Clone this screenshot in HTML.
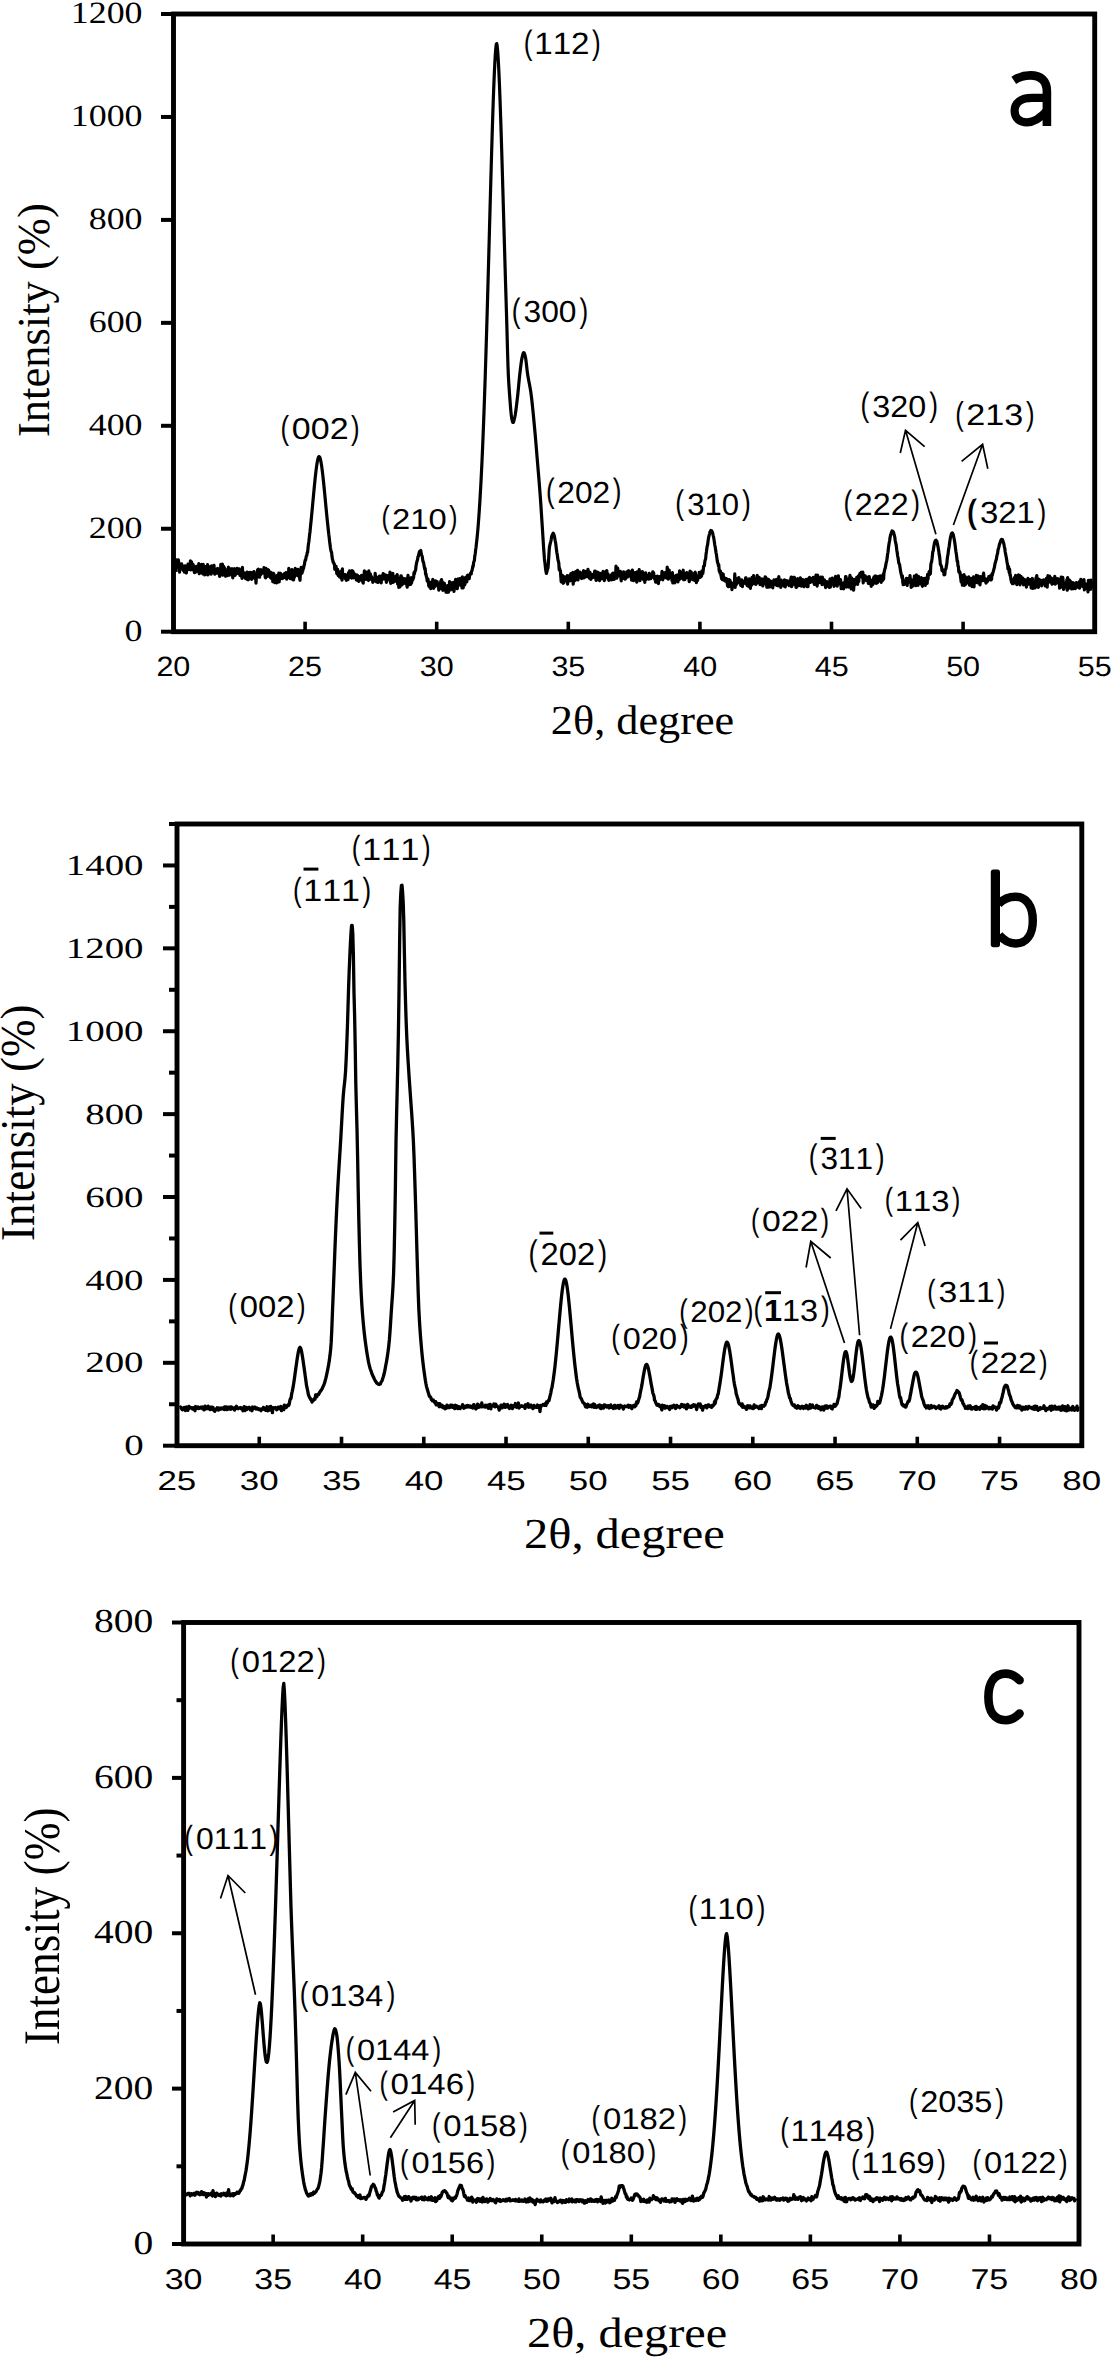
<!DOCTYPE html>
<html><head><meta charset="utf-8"><title>XRD patterns</title>
<style>
html,body{margin:0;padding:0;background:#fff;}
body{width:1112px;height:2357px;overflow:hidden;}
svg{display:block;}
text{font-kerning:none;text-rendering:geometricPrecision;fill:#000;}
</style></head><body>
<svg width="1112" height="2357" viewBox="0 0 1112 2357">
<rect width="1112" height="2357" fill="#fff"/>
<path d="M176 571.91 176.4 559.83 176.8 567.04 177.2 564.08 177.6 564.42 178 565.2 178.4 559.94 178.8 564.13 179.2 563.48 179.6 572.18 180 567.01 180.4 565.43 180.8 565.83 181.2 564.88 181.6 563.8 182 565.93 182.4 568.65 182.8 566.62 183.2 570.27 183.6 566.45 184 567.61 184.4 572.19 184.8 569.16 185.2 565.94 185.6 566.89 186 568.97 186.4 573.03 186.8 566.3 187.2 566.23 187.6 569.9 188 564.19 188.4 565.92 188.8 569.35 189.2 568.42 189.6 566.09 190 568.71 190.4 560.82 190.8 569.97 191.2 561.6 191.6 562.2 192 568.18 192.4 569.59 192.8 566.38 193.2 564.68 193.6 568.16 194 568.12 194.4 572.7 194.8 570.84 195.2 569.3 195.6 572.18 196 568.39 196.4 566.32 196.8 570.97 197.2 571.08 197.6 568.62 198 567.14 198.4 570.34 198.8 563.71 199.2 573.62 199.6 571.45 200 565.12 200.4 570.32 200.8 567.31 201.2 572.57 201.6 564.35 202 567.66 202.4 572.57 202.8 573.88 203.2 564.39 203.6 568.9 204 571.26 204.4 568.35 204.8 574.94 205.2 566.61 205.6 571.14 206 566.85 206.4 574.22 206.8 569.85 207.2 568.79 207.6 564.68 208 574.89 208.4 572.15 208.8 572.21 209.2 573.38 209.6 571.03 210 566.81 210.4 567.61 210.8 567.63 211.2 574.23 211.6 565.81 212 568.49 212.4 569.31 212.8 570.97 213.2 572.05 213.6 566.65 214 565.3 214.4 570.55 214.8 574.24 215.2 572.92 215.6 571.37 216 569.72 216.4 571.62 216.8 569.98 217.2 573.19 217.6 568.32 218 571.14 218.4 570.32 218.8 572.24 219.2 571.46 219.6 576.49 220 574.92 220.4 574.8 220.8 564.27 221.2 569.25 221.6 568.39 222 571.79 222.4 564.16 222.8 575.15 223.2 573.41 223.6 566.3 224 567.34 224.4 567.91 224.8 570.43 225.2 572.21 225.6 576.27 226 569.74 226.4 572.63 226.8 570.76 227.2 575.67 227.6 572.67 228 574.47 228.4 567.12 228.8 569.86 229.2 568.03 229.6 575.04 230 572.67 230.4 569.94 230.8 569.59 231.2 572.61 231.6 569.18 232 568.71 232.4 573.18 232.8 577.97 233.2 570.76 233.6 570.65 234 568.99 234.4 568.61 234.8 574.3 235.2 575.36 235.6 572.87 236 573.89 236.4 573.29 236.8 573.42 237.2 568.44 237.6 571.56 238 573.25 238.4 570.62 238.8 571.44 239.2 568.79 239.6 571.91 240 575.51 240.4 570.82 240.8 572.62 241.2 575.58 241.6 575.15 242 578.38 242.4 567.36 242.8 576 243.2 572.12 243.6 574.03 244 576.16 244.4 576.91 244.8 576.91 245.2 574.25 245.6 578.59 246 572.93 246.4 573.36 246.8 576.17 247.2 572.16 247.6 579.76 248 576.8 248.4 579.77 248.8 573.64 249.2 572.63 249.6 574.32 250 576.05 250.4 572.27 250.8 575.24 251.2 574.22 251.6 579.28 252 572.58 252.4 577.82 252.8 572.85 253.2 572.05 253.6 572.95 254 571.65 254.4 575.75 254.8 578.44 255.2 575.84 255.6 577.11 256 583.24 256.4 575.91 256.8 575.58 257.2 574.04 257.6 569.83 258 576.78 258.4 569.06 258.8 576.1 259.2 573.99 259.6 577.26 260 572.45 260.4 571.19 260.8 574.61 261.2 569.72 261.6 572.9 262 573.48 262.4 573.01 262.8 572.87 263.2 570.99 263.6 572.96 264 567.59 264.4 573.21 264.8 570.19 265.2 577.23 265.6 577.84 266 568.23 266.4 574.68 266.8 574.01 267.2 571.46 267.6 576.3 268 573.47 268.4 569.73 268.8 574.4 269.2 574.93 269.6 575.84 270 571.92 270.4 577.54 270.8 578.03 271.2 572.5 271.6 574.09 272 575.89 272.4 574.6 272.8 581.62 273.2 577.01 273.6 573.45 274 574.17 274.4 576.45 274.8 582.69 275.2 576.3 275.6 577.33 276 578.51 276.4 576.84 276.8 582.91 277.2 575.37 277.6 579.23 278 577.43 278.4 578.72 278.8 573.21 279.2 581.92 279.6 576.06 280 576.33 280.4 573.22 280.8 573.7 281.2 578.53 281.6 578.39 282 577.46 282.4 578.58 282.8 576.91 283.2 574.64 283.6 576.84 284 575.9 284.4 573.68 284.8 576.05 285.2 577.68 285.6 574.5 286 572.59 286.4 575.75 286.8 579.25 287.2 572.95 287.6 573.44 288 573.32 288.4 577.48 288.8 568.28 289.2 574.98 289.6 577.5 290 571.61 290.4 578.6 290.8 575.81 291.2 572.58 291.6 574.88 292 569.7 292.4 572.53 292.8 579.73 293.2 571.61 293.6 579.8 294 574.01 294.4 577.23 294.8 574.44 295.2 568.38 295.6 572.63 296 574.88 296.4 570.96 296.8 570.36 297.2 575.34 297.6 572.43 298 569.41 298.4 572.25 298.8 576.46 299.2 572.52 299.6 578.06 300 580.29 300.4 573.22 300.8 569.83 301.2 567.37 301.6 571.63 302 573.12 302.4 570.91 302.8 570.7 303.2 567.68 303.6 568.2 304 565.62 304.4 564.68 304.8 561.83 305.2 560.09 305.6 560.13 306 557.65 306.4 555.99 306.8 555.62 307.2 552.56 307.6 552.61 308 548.11 308.4 544.32 308.8 542 309.2 538.56 309.6 534.81 310 531.75 310.4 527.56 310.8 523.51 311.2 520.03 311.6 515.67 312 511.66 312.4 507.2 312.8 502.87 313.2 498.67 313.6 494.26 314 490.05 314.4 485.91 314.8 481.84 315.2 477.96 315.6 474.28 316 470.86 316.4 467.69 316.8 464.86 317.2 462.38 317.6 460.29 318 458.6 318.4 457.39 318.8 456.68 319.2 456.52 319.6 456.96 320 457.89 320.4 459.27 320.8 461.05 321.2 463.23 321.6 465.74 322 468.6 322.4 471.76 322.8 475.13 323.2 478.74 323.6 482.52 324 486.49 324.4 490.54 324.8 494.6 325.2 498.88 325.6 503.06 326 507.28 326.4 511.33 326.8 515.65 327.2 519.52 327.6 523.34 328 527.03 328.4 530.71 328.8 534.53 329.2 537.5 329.6 541.25 330 544.22 330.4 547.45 330.8 549.87 331.2 551.73 331.6 552.35 332 556.57 332.4 559.12 332.8 560.24 333.2 562.49 333.6 562.47 334 563.89 334.4 564.03 334.8 569.32 335.2 567.97 335.6 567.44 336 566.23 336.4 569.41 336.8 573.64 337.2 571.86 337.6 569.28 338 575.19 338.4 575.61 338.8 574.79 339.2 574.61 339.6 576.95 340 574.58 340.4 575.48 340.8 571.35 341.2 578.14 341.6 574.58 342 580.19 342.4 568.78 342.8 576.96 343.2 578.01 343.6 574.3 344 576.93 344.4 578.03 344.8 577.64 345.2 574.53 345.6 575.86 346 579.37 346.4 580.25 346.8 576.81 347.2 576.75 347.6 577.16 348 579.58 348.4 573.23 348.8 572.29 349.2 576.61 349.6 570.95 350 574.37 350.4 576.27 350.8 577.35 351.2 572.66 351.6 578.26 352 570.55 352.4 577.49 352.8 571.11 353.2 572.08 353.6 577.89 354 574.85 354.4 573.8 354.8 575.04 355.2 577.88 355.6 576.41 356 576.6 356.4 580 356.8 574.84 357.2 575.69 357.6 575.69 358 580.75 358.4 580.32 358.8 581.26 359.2 577.4 359.6 577.41 360 580.15 360.4 576.39 360.8 579.97 361.2 579.64 361.6 575.3 362 577.1 362.4 576.95 362.8 582.37 363.2 583.03 363.6 576.63 364 576.99 364.4 570.95 364.8 577.52 365.2 577.01 365.6 573.73 366 579.32 366.4 572.19 366.8 576.35 367.2 577.87 367.6 573.44 368 579.88 368.4 580.49 368.8 570.95 369.2 573.23 369.6 579.31 370 577.39 370.4 573.88 370.8 576.5 371.2 577.01 371.6 576.76 372 579.65 372.4 578.26 372.8 582.29 373.2 581.1 373.6 579 374 580.1 374.4 580.85 374.8 578.98 375.2 573.3 375.6 579.51 376 577.24 376.4 581.95 376.8 577.43 377.2 578.84 377.6 578.35 378 582.51 378.4 577.99 378.8 576.65 379.2 578.36 379.6 576.03 380 577.84 380.4 577.24 380.8 578.06 381.2 582.95 381.6 575.95 382 577.15 382.4 576.41 382.8 579.05 383.2 573.49 383.6 574.92 384 576.96 384.4 578.79 384.8 577.07 385.2 575.89 385.6 575.04 386 579.34 386.4 582.29 386.8 579.02 387.2 578.78 387.6 579.6 388 575.51 388.4 577.48 388.8 577.67 389.2 579.61 389.6 578.35 390 572.2 390.4 581.66 390.8 583.27 391.2 577.32 391.6 579.2 392 578.73 392.4 580.18 392.8 573.24 393.2 582.44 393.6 576.26 394 581.53 394.4 578.04 394.8 576.79 395.2 577.77 395.6 581.06 396 576.08 396.4 577.87 396.8 577.86 397.2 574.5 397.6 583.91 398 582.09 398.4 581.14 398.8 587.35 399.2 578.44 399.6 581.31 400 586.81 400.4 584.71 400.8 575.85 401.2 575.86 401.6 578.69 402 584.87 402.4 580.15 402.8 580.7 403.2 582.98 403.6 578.36 404 581.57 404.4 583.29 404.8 582.22 405.2 581.94 405.6 578.94 406 583.42 406.4 579.64 406.8 584.9 407.2 587.09 407.6 579 408 575.4 408.4 580.21 408.8 582.68 409.2 584.67 409.6 584.68 410 579.11 410.4 578.88 410.8 584.4 411.2 577.51 411.6 582.94 412 578.77 412.4 580.54 412.8 579.5 413.2 578.66 413.6 577.56 414 572.63 414.4 573.84 414.8 571.84 415.2 570.66 415.6 570.17 416 566.29 416.4 563.91 416.8 562.04 417.2 560.56 417.6 559.55 418 556.56 418.4 556.28 418.8 554.25 419.2 552.78 419.6 551.34 420 551.7 420.4 551.89 420.8 550.47 421.2 553.46 421.6 554.94 422 555.67 422.4 557.52 422.8 560.62 423.2 562.18 423.6 562.38 424 565.37 424.4 567.31 424.8 569.32 425.2 568.53 425.6 574.49 426 573.79 426.4 576.76 426.8 577.53 427.2 580.96 427.6 579.39 428 579.04 428.4 583.08 428.8 586.09 429.2 582.07 429.6 587.15 430 584.43 430.4 582.53 430.8 588.77 431.2 582.2 431.6 587.77 432 582.82 432.4 586.31 432.8 579.37 433.2 582.65 433.6 588.36 434 585.64 434.4 585.21 434.8 583.8 435.2 586.5 435.6 580.95 436 581.77 436.4 584.67 436.8 582.62 437.2 581.76 437.6 584.93 438 584.75 438.4 584.5 438.8 590.21 439.2 588.32 439.6 588.99 440 585.3 440.4 583.92 440.8 581.08 441.2 584.48 441.6 579.59 442 583.77 442.4 587.74 442.8 590.34 443.2 588.41 443.6 582.97 444 587.16 444.4 583.4 444.8 588.23 445.2 585.48 445.6 590.47 446 592.14 446.4 589.05 446.8 592.4 447.2 587.08 447.6 585.73 448 590.93 448.4 592.18 448.8 585.43 449.2 587.45 449.6 581.54 450 586.67 450.4 589.95 450.8 586.98 451.2 585.47 451.6 582.79 452 587.95 452.4 589.11 452.8 588.35 453.2 587.16 453.6 582.44 454 591.36 454.4 585.68 454.8 585.29 455.2 587.65 455.6 579.29 456 584.99 456.4 584.58 456.8 585.9 457.2 588.65 457.6 585.9 458 578.91 458.4 583.21 458.8 584.7 459.2 584.36 459.6 579.97 460 578.74 460.4 585.13 460.8 584.37 461.2 583.12 461.6 578.02 462 587.97 462.4 576.89 462.8 581.41 463.2 587.99 463.6 581.64 464 582.47 464.4 578.27 464.8 584.99 465.2 577.51 465.6 581.36 466 580.74 466.4 577.29 466.8 581.96 467.2 575.8 467.6 575.29 468 578.31 468.4 576.96 468.8 578.37 469.2 578.67 469.6 575.48 470 574.3 470.4 573.6 470.8 572.99 471.2 573.95 471.6 571.14 472 570.76 472.4 568.66 472.8 566.19 473.2 566.41 473.6 562.56 474 561.49 474.4 560.35 474.8 555.96 475.2 553.95 475.6 550.26 476 547.63 476.4 543.87 476.8 540.54 477.2 536.51 477.6 532.33 478 527.89 478.4 522.75 478.8 517.47 479.2 511.75 479.6 505.71 480 499.28 480.4 492.46 480.8 485.27 481.2 477.64 481.6 469.57 482 461.06 482.4 452.13 482.8 442.74 483.2 432.91 483.6 422.63 484 411.92 484.4 400.77 484.8 389.19 485.2 377.2 485.6 364.81 486 352.04 486.4 338.91 486.8 325.46 487.2 311.7 487.6 297.67 488 283.42 488.4 268.98 488.8 254.41 489.2 239.74 489.6 225.05 490 210.38 490.4 195.8 490.8 181.39 491.2 167.2 491.6 153.32 492 139.82 492.4 126.79 492.8 114.32 493.2 102.49 493.6 91.4 494 81.14 494.4 71.82 494.8 63.55 495.2 56.45 495.6 50.65 496 46.33 496.4 43.75 496.8 43.7 497.2 46.09 497.6 50.13 498 55.57 498.4 62.25 498.8 70.04 499.2 78.84 499.6 88.53 500 99.02 500.4 110.22 500.8 122.05 501.2 134.42 501.6 147.24 502 160.44 502.4 173.95 502.8 187.68 503.2 201.57 503.6 215.55 504 229.56 504.4 243.52 504.8 257.39 505.2 271.09 505.6 284.59 506 297.81 506.4 310.72 506.8 323.91 507.2 338.75 507.6 353.52 508 366.52 508.4 376.17 508.8 383.41 509.2 389.46 509.6 394.88 510 400.22 510.4 405.56 510.8 410.49 511.2 414.61 511.6 417.5 512 419.61 512.4 421.38 512.8 422.45 513.2 422.49 513.6 421.7 514 420.38 514.4 418.8 514.8 417.14 515.2 415.03 515.6 412.48 516 409.58 516.4 406.41 516.8 403.06 517.2 399.63 517.6 396.2 518 392.49 518.4 388.35 518.8 384.03 519.2 379.78 519.6 375.86 520 372.42 520.4 369.06 520.8 365.8 521.2 362.77 521.6 360.09 522 357.89 522.4 356.18 522.8 354.58 523.2 353.29 523.6 352.63 524 352.8 524.4 353.57 524.8 354.75 525.2 356.14 525.6 357.91 526 360.64 526.4 364 526.8 367.61 527.2 371.1 527.6 374.1 528 376.59 528.4 378.84 528.8 380.95 529.2 382.99 529.6 385.04 530 387.19 530.4 389.52 530.8 392.1 531.2 395.01 531.6 398.23 532 401.71 532.4 405.41 532.8 409.31 533.2 413.35 533.6 417.51 534 421.74 534.4 426 534.8 430.27 535.2 434.7 535.6 439.31 536 444.06 536.4 448.9 536.8 453.78 537.2 458.67 537.6 463.49 538 468.25 538.4 472.99 538.8 477.73 539.2 482.58 539.6 487.52 540 492.75 540.4 498.15 540.8 503.93 541.2 510.07 541.6 516.35 542 522.34 542.4 528.52 542.8 534.94 543.2 541.16 543.6 547.28 544 553 544.4 558.49 544.8 561.74 545.2 565.25 545.6 569.25 546 571.34 546.4 573.44 546.8 572.09 547.2 570.43 547.6 568.89 548 568.19 548.4 562.83 548.8 556.37 549.2 549.8 549.6 546.25 550 544.6 550.4 542.79 550.8 541.33 551.2 539.54 551.6 536.43 552 536.18 552.4 534.46 552.8 533.93 553.2 533.16 553.6 533.77 554 534.76 554.4 536.29 554.8 538.43 555.2 540.7 555.6 542.65 556 545.81 556.4 549.2 556.8 552.19 557.2 554.4 557.6 557.22 558 560.04 558.4 561.34 558.8 563.19 559.2 569.64 559.6 568.36 560 570.99 560.4 570.78 560.8 576.56 561.2 581.91 561.6 575.24 562 577.97 562.4 575.32 562.8 582.7 563.2 583.29 563.6 576.28 564 582.43 564.4 580 564.8 580.25 565.2 580.07 565.6 577.03 566 577.33 566.4 580.65 566.8 578.49 567.2 575.6 567.6 584.03 568 577.52 568.4 576.37 568.8 575.9 569.2 580.09 569.6 580.93 570 578.78 570.4 580.71 570.8 573.7 571.2 577.11 571.6 576.84 572 578.33 572.4 579.84 572.8 572.28 573.2 584.2 573.6 575.74 574 579.31 574.4 580.68 574.8 580.69 575.2 579.52 575.6 571.57 576 574.25 576.4 579.56 576.8 574.28 577.2 573.57 577.6 570.36 578 579.9 578.4 577.54 578.8 573.16 579.2 575.3 579.6 575.2 580 572 580.4 572.75 580.8 575.71 581.2 576.48 581.6 578.51 582 574.71 582.4 573.16 582.8 575.7 583.2 572.62 583.6 570.72 584 577.98 584.4 573.44 584.8 574.05 585.2 576.68 585.6 571.47 586 576.78 586.4 576.12 586.8 574.7 587.2 576.33 587.6 573 588 569.25 588.4 574.51 588.8 572.7 589.2 578.04 589.6 576.27 590 572.42 590.4 575.54 590.8 579.41 591.2 578.74 591.6 576.52 592 576.73 592.4 574.67 592.8 575.17 593.2 577.4 593.6 575.39 594 576.7 594.4 572.57 594.8 571 595.2 571.09 595.6 574.96 596 580.4 596.4 580.08 596.8 573.61 597.2 572.02 597.6 579.12 598 578.09 598.4 572.58 598.8 579.83 599.2 577.13 599.6 580.56 600 577.56 600.4 579.09 600.8 577.35 601.2 573.41 601.6 575.57 602 574.15 602.4 578.61 602.8 573.12 603.2 571.45 603.6 578.16 604 579.58 604.4 580.48 604.8 579.52 605.2 571.82 605.6 574.36 606 574.89 606.4 576.5 606.8 570.57 607.2 576.73 607.6 577.62 608 573.94 608.4 577.19 608.8 580.37 609.2 576.96 609.6 579.95 610 579.71 610.4 577.78 610.8 577.63 611.2 575.24 611.6 579.87 612 574.54 612.4 573.68 612.8 577.66 613.2 573.11 613.6 576.4 614 579.48 614.4 575.15 614.8 575.01 615.2 577.31 615.6 576.74 616 566.04 616.4 570.34 616.8 578.18 617.2 575.34 617.6 568.14 618 570.23 618.4 574.43 618.8 571.42 619.2 575.87 619.6 574.16 620 576.1 620.4 571.23 620.8 576.65 621.2 580.86 621.6 572.69 622 579.11 622.4 578.12 622.8 577.17 623.2 575.15 623.6 571.92 624 572.79 624.4 577.77 624.8 578.43 625.2 579.16 625.6 578.29 626 578.07 626.4 574.14 626.8 571.76 627.2 576.01 627.6 576.95 628 575.72 628.4 570.96 628.8 573.98 629.2 571.1 629.6 575.99 630 572.46 630.4 575.18 630.8 576.74 631.2 576.21 631.6 580.07 632 572.78 632.4 570.04 632.8 578.96 633.2 580.42 633.6 580.59 634 577.29 634.4 578.1 634.8 576.84 635.2 572.63 635.6 573.99 636 578.02 636.4 574.77 636.8 582.2 637.2 571.86 637.6 575.13 638 579.67 638.4 574.47 638.8 572.81 639.2 569.64 639.6 573.96 640 580.64 640.4 577.25 640.8 577.59 641.2 574.38 641.6 578.45 642 576.34 642.4 571.69 642.8 574.77 643.2 576.75 643.6 579.67 644 576.12 644.4 577.84 644.8 582.34 645.2 574.1 645.6 572.81 646 579.57 646.4 578.1 646.8 576.49 647.2 577.61 647.6 575.82 648 578.43 648.4 575.86 648.8 579.23 649.2 573.26 649.6 574.32 650 577.04 650.4 575.25 650.8 578.72 651.2 576.41 651.6 574.11 652 577.16 652.4 574.9 652.8 571.83 653.2 573.07 653.6 572.8 654 575.05 654.4 576.89 654.8 579.43 655.2 578.41 655.6 582.16 656 580.82 656.4 576.57 656.8 582.16 657.2 580.87 657.6 576.05 658 578.35 658.4 583.57 658.8 578.26 659.2 580.53 659.6 578.59 660 579.5 660.4 576.33 660.8 578.29 661.2 575.85 661.6 578.77 662 571.46 662.4 577.28 662.8 579.81 663.2 577.59 663.6 575.59 664 577.08 664.4 572.81 664.8 572.73 665.2 574.04 665.6 574.65 666 577.91 666.4 572.36 666.8 578.17 667.2 567.14 667.6 572.97 668 575.4 668.4 579.23 668.8 574.14 669.2 569.99 669.6 577.59 670 576.41 670.4 573.42 670.8 573.72 671.2 574.88 671.6 577.34 672 580.72 672.4 572.68 672.8 583.02 673.2 577.04 673.6 575.94 674 579.05 674.4 577.31 674.8 582.8 675.2 580.21 675.6 575.77 676 575.62 676.4 575.3 676.8 575.82 677.2 578.86 677.6 574.99 678 581.79 678.4 576.67 678.8 576.5 679.2 579.74 679.6 570.91 680 574.03 680.4 578.6 680.8 576.82 681.2 576.63 681.6 577.69 682 574.48 682.4 575.6 682.8 571.96 683.2 570.25 683.6 579.6 684 572.88 684.4 573.37 684.8 579.66 685.2 578.63 685.6 573.85 686 573.86 686.4 575.25 686.8 572.62 687.2 577.28 687.6 576.22 688 576.24 688.4 578.15 688.8 578.17 689.2 581.6 689.6 580.71 690 571.14 690.4 579.01 690.8 573.06 691.2 572.08 691.6 578.5 692 574.26 692.4 575.52 692.8 579.73 693.2 574.64 693.6 574.03 694 577.68 694.4 580.33 694.8 578.32 695.2 572.18 695.6 574.88 696 576.42 696.4 582.65 696.8 579.59 697.2 579.47 697.6 580.47 698 575.91 698.4 578.12 698.8 577.95 699.2 572.34 699.6 576.08 700 577.36 700.4 572.46 700.8 576.98 701.2 576.19 701.6 575.99 702 570.8 702.4 571.82 702.8 573.45 703.2 570.56 703.6 566.09 704 566.08 704.4 565.85 704.8 561.64 705.2 559.93 705.6 559.06 706 554.56 706.4 551.93 706.8 548.71 707.2 546.11 707.6 544.78 708 541.48 708.4 538.72 708.8 536.66 709.2 535.01 709.6 533.56 710 531.87 710.4 531.27 710.8 530.46 711.2 530.52 711.6 530.83 712 531.51 712.4 532.3 712.8 533.72 713.2 535.58 713.6 536.99 714 539.63 714.4 542.2 714.8 544.93 715.2 547.04 715.6 549.61 716 552.48 716.4 554.41 716.8 557.36 717.2 560.39 717.6 562.61 718 563.01 718.4 565.91 718.8 564.91 719.2 571.18 719.6 570.15 720 572.93 720.4 571.13 720.8 574.33 721.2 576.42 721.6 578.59 722 573.25 722.4 579.67 722.8 577.5 723.2 574.18 723.6 580.2 724 577.23 724.4 577.74 724.8 577.99 725.2 581.08 725.6 580.89 726 580.04 726.4 578.55 726.8 580.19 727.2 583.08 727.6 585.93 728 582.27 728.4 586.76 728.8 582.73 729.2 579.64 729.6 584.98 730 580.25 730.4 584.54 730.8 586.66 731.2 582.67 731.6 583.35 732 589.7 732.4 584.38 732.8 584.47 733.2 585.92 733.6 583.25 734 583.23 734.4 584.49 734.8 573.93 735.2 587.43 735.6 579.76 736 579.59 736.4 584.34 736.8 582.6 737.2 578.56 737.6 582.81 738 578.67 738.4 579.96 738.8 577.52 739.2 579.44 739.6 583.03 740 582.18 740.4 582.71 740.8 585.47 741.2 581.64 741.6 579.78 742 580.95 742.4 586.73 742.8 581.85 743.2 582.72 743.6 581.51 744 582.56 744.4 583.2 744.8 582 745.2 581.63 745.6 577.87 746 577.77 746.4 583.64 746.8 584.74 747.2 585.51 747.6 583.05 748 580.58 748.4 586.49 748.8 585.19 749.2 578.9 749.6 585.8 750 585.09 750.4 588.32 750.8 579.92 751.2 579.3 751.6 585.28 752 577.39 752.4 580.26 752.8 578.89 753.2 578.78 753.6 575.71 754 580.43 754.4 583.79 754.8 581.92 755.2 581.65 755.6 579.08 756 584.33 756.4 581.47 756.8 583.06 757.2 575.36 757.6 581.07 758 576.73 758.4 581.37 758.8 580.16 759.2 577.37 759.6 581.5 760 584.66 760.4 582.98 760.8 583.53 761.2 579.39 761.6 580.1 762 578.94 762.4 582.73 762.8 585.97 763.2 583.72 763.6 582.39 764 579.09 764.4 583.73 764.8 581.7 765.2 576.74 765.6 577.16 766 581.27 766.4 579.6 766.8 587.24 767.2 582.41 767.6 579.21 768 580.87 768.4 587.11 768.8 579.56 769.2 584.74 769.6 583.75 770 586.81 770.4 584.88 770.8 581.1 771.2 583.84 771.6 582.46 772 584.97 772.4 581.8 772.8 587.81 773.2 581.53 773.6 583.08 774 579.78 774.4 582.14 774.8 581.86 775.2 582.32 775.6 584.56 776 580.34 776.4 579.52 776.8 585.52 777.2 581.49 777.6 580.45 778 585.99 778.4 584.97 778.8 576.65 779.2 581.64 779.6 585.14 780 585.29 780.4 581.21 780.8 587.32 781.2 580.22 781.6 581.81 782 582.79 782.4 582.27 782.8 584.56 783.2 585.13 783.6 581.97 784 586.17 784.4 579.92 784.8 581.29 785.2 587.01 785.6 582.2 786 585.11 786.4 580.66 786.8 581.19 787.2 581.67 787.6 582.46 788 580.95 788.4 581.97 788.8 583.96 789.2 585.55 789.6 582.29 790 583.81 790.4 584.57 790.8 578.56 791.2 577.09 791.6 586.61 792 585.76 792.4 581.93 792.8 582.78 793.2 577.32 793.6 577.67 794 582.73 794.4 577.34 794.8 584.44 795.2 579.6 795.6 582.48 796 587.41 796.4 587.28 796.8 580.81 797.2 584.77 797.6 578.52 798 579.82 798.4 582.66 798.8 585.72 799.2 579.89 799.6 583.19 800 581.87 800.4 577.81 800.8 581.09 801.2 586.17 801.6 581.45 802 583.29 802.4 584.26 802.8 579.56 803.2 585.43 803.6 586.26 804 586.65 804.4 585.86 804.8 580.59 805.2 580.23 805.6 579.68 806 579.38 806.4 579.81 806.8 585.22 807.2 586.7 807.6 580.41 808 586.75 808.4 578.63 808.8 581.47 809.2 579.35 809.6 577.45 810 582.4 810.4 582.32 810.8 580.74 811.2 580.23 811.6 578.69 812 581.07 812.4 579.45 812.8 581.76 813.2 577.33 813.6 581.48 814 582.28 814.4 584.42 814.8 583.82 815.2 581.2 815.6 578.55 816 575.17 816.4 580.72 816.8 585.14 817.2 586.01 817.6 575.15 818 579.01 818.4 580.36 818.8 578.38 819.2 582.74 819.6 581.8 820 580.12 820.4 581.6 820.8 577.08 821.2 578.93 821.6 579.19 822 584.65 822.4 577.1 822.8 581.25 823.2 584.2 823.6 581.67 824 584.26 824.4 579.84 824.8 583.02 825.2 584.41 825.6 587.66 826 583.83 826.4 585.89 826.8 581.69 827.2 581.93 827.6 586.22 828 583.19 828.4 585.66 828.8 583.51 829.2 587.39 829.6 587.42 830 578.96 830.4 587.04 830.8 582.77 831.2 582.99 831.6 581.2 832 583.68 832.4 578.17 832.8 579.41 833.2 579.33 833.6 582.44 834 586.35 834.4 583.82 834.8 582.68 835.2 579.8 835.6 576.37 836 582.92 836.4 582.2 836.8 582.83 837.2 586.05 837.6 581.29 838 581.32 838.4 575.94 838.8 583.84 839.2 582.18 839.6 580.25 840 583.7 840.4 579.51 840.8 581.07 841.2 588.65 841.6 585.11 842 585.7 842.4 585.18 842.8 584.81 843.2 583.48 843.6 588.83 844 582.62 844.4 584.99 844.8 582.08 845.2 581.62 845.6 576.54 846 576.74 846.4 587.03 846.8 586.72 847.2 580.82 847.6 581.88 848 583.72 848.4 578.78 848.8 587.03 849.2 578.47 849.6 578.45 850 575.32 850.4 585.8 850.8 581.32 851.2 589.02 851.6 577.92 852 581.89 852.4 581.04 852.8 581.38 853.2 586.67 853.6 590.22 854 584.79 854.4 579.37 854.8 583.17 855.2 584.39 855.6 581.97 856 581.9 856.4 581.5 856.8 577.25 857.2 580.48 857.6 584.39 858 576.43 858.4 579.45 858.8 581.51 859.2 574.76 859.6 576.88 860 573.44 860.4 576.5 860.8 573.99 861.2 572.37 861.6 576.57 862 577.23 862.4 575.56 862.8 572.09 863.2 582.97 863.6 577.44 864 575.04 864.4 576.56 864.8 579.52 865.2 575.72 865.6 577.65 866 577.55 866.4 580.74 866.8 577.08 867.2 580.8 867.6 580.51 868 579.17 868.4 583.51 868.8 580.01 869.2 576.49 869.6 580.96 870 580.53 870.4 580.09 870.8 581.03 871.2 586.41 871.6 581.14 872 581.9 872.4 579.82 872.8 584.57 873.2 580.51 873.6 578.24 874 576.99 874.4 582.23 874.8 582.75 875.2 575.73 875.6 578.27 876 582.28 876.4 583.37 876.8 576.29 877.2 578.97 877.6 582.74 878 577.52 878.4 578.74 878.8 578.47 879.2 576.26 879.6 580.14 880 580.76 880.4 575.76 880.8 579.9 881.2 582.33 881.6 579.47 882 580.94 882.4 576.45 882.8 580.39 883.2 574.4 883.6 579.18 884 572.89 884.4 570.95 884.8 569.12 885.2 568.2 885.6 566.11 886 563.74 886.4 561.89 886.8 560.35 887.2 557.8 887.6 554.1 888 552.27 888.4 548.19 888.8 545.17 889.2 542.76 889.6 540.82 890 537.82 890.4 535.8 890.8 534.64 891.2 533.25 891.6 532.09 892 530.89 892.4 530.96 892.8 531.33 893.2 531.78 893.6 532.39 894 533.98 894.4 535.29 894.8 537.31 895.2 540.45 895.6 542.44 896 544.12 896.4 546.63 896.8 550.27 897.2 552.32 897.6 555.79 898 557.4 898.4 560.25 898.8 563.12 899.2 563.82 899.6 564.52 900 567.41 900.4 569.92 900.8 572.42 901.2 574.2 901.6 575.48 902 577.97 902.4 575.73 902.8 582.29 903.2 584.71 903.6 581.08 904 581.12 904.4 584.41 904.8 583.04 905.2 581.97 905.6 581.08 906 579.54 906.4 578.35 906.8 583.76 907.2 585.33 907.6 578.62 908 581.56 908.4 582.32 908.8 580.38 909.2 579.36 909.6 579.89 910 575.67 910.4 581.31 910.8 579.97 911.2 587.41 911.6 584.02 912 580.06 912.4 580.76 912.8 586.04 913.2 585.65 913.6 581.33 914 580.23 914.4 576.16 914.8 579.49 915.2 579.04 915.6 578.16 916 585.6 916.4 574.76 916.8 579.92 917.2 581.61 917.6 581.68 918 585.42 918.4 576.23 918.8 578.21 919.2 580.78 919.6 580.94 920 579.41 920.4 578.32 920.8 583.9 921.2 577.65 921.6 579.14 922 585.26 922.4 586.27 922.8 583.77 923.2 578.75 923.6 579 924 578.89 924.4 578.36 924.8 580.55 925.2 585.46 925.6 582.31 926 579.38 926.4 579.03 926.8 577.62 927.2 583.45 927.6 574.45 928 579.25 928.4 574.18 928.8 573.83 929.2 571.64 929.6 574.65 930 570.82 930.4 573.68 930.8 565.09 931.2 562.63 931.6 561.79 932 558.94 932.4 555.48 932.8 551.71 933.2 551.04 933.6 548.06 934 545.71 934.4 543.41 934.8 542.3 935.2 540.8 935.6 540.37 936 540.17 936.4 541 936.8 541.32 937.2 542.68 937.6 544.95 938 546.71 938.4 548.97 938.8 551.41 939.2 554.86 939.6 556.46 940 560.06 940.4 564.31 940.8 565.1 941.2 565.76 941.6 566.92 942 570.53 942.4 569.47 942.8 569.66 943.2 571.7 943.6 571.23 944 574.85 944.4 570.01 944.8 574.71 945.2 569.48 945.6 569.47 946 568.42 946.4 565.68 946.8 563.85 947.2 559.56 947.6 556.14 948 554.68 948.4 550.84 948.8 548.53 949.2 546.27 949.6 542.99 950 540.27 950.4 537.67 950.8 536.15 951.2 534.67 951.6 533.33 952 533.19 952.4 532.89 952.8 533.67 953.2 534.52 953.6 536.34 954 538.23 954.4 540.25 954.8 542.75 955.2 545.74 955.6 549.16 956 552.08 956.4 554.54 956.8 557.61 957.2 561.7 957.6 561.03 958 566.07 958.4 566.33 958.8 571.97 959.2 570.75 959.6 573.04 960 572.3 960.4 575.93 960.8 578.88 961.2 582.12 961.6 575.23 962 577.94 962.4 585.21 962.8 582.58 963.2 580.16 963.6 581.92 964 574.68 964.4 585.39 964.8 581.21 965.2 576.5 965.6 584.34 966 579.01 966.4 577.87 966.8 582.61 967.2 582.31 967.6 579.78 968 580.96 968.4 577.18 968.8 576.88 969.2 583.94 969.6 585.21 970 582.58 970.4 582.43 970.8 580.09 971.2 580.91 971.6 578.49 972 586.53 972.4 579.47 972.8 582.33 973.2 581.11 973.6 576.8 974 586.8 974.4 579.76 974.8 578.51 975.2 580.99 975.6 577.85 976 580.57 976.4 575.32 976.8 582.49 977.2 580.24 977.6 575.85 978 582.93 978.4 580.26 978.8 576.23 979.2 580.55 979.6 580.68 980 584.82 980.4 576.55 980.8 581.59 981.2 578.74 981.6 580.85 982 576.56 982.4 578.87 982.8 580.56 983.2 575.56 983.6 573.18 984 579.22 984.4 578 984.8 579.65 985.2 581.39 985.6 578.87 986 583.06 986.4 579.45 986.8 579.91 987.2 581.92 987.6 581.01 988 578.94 988.4 579.32 988.8 576.69 989.2 576.76 989.6 578.23 990 579.54 990.4 575.87 990.8 578.25 991.2 580 991.6 579.05 992 573.88 992.4 574.9 992.8 572.81 993.2 571.82 993.6 570.53 994 568.56 994.4 567.45 994.8 564.76 995.2 562.85 995.6 561.7 996 560.16 996.4 558.92 996.8 556.32 997.2 554.72 997.6 553.25 998 550.03 998.4 548.68 998.8 547.39 999.2 545.59 999.6 543.73 1000 543.19 1000.4 541.69 1000.8 540.48 1001.2 540.71 1001.6 539.3 1002 539.53 1002.4 539.62 1002.8 540.57 1003.2 541.84 1003.6 542.81 1004 544.8 1004.4 546.77 1004.8 548.51 1005.2 551.99 1005.6 553.84 1006 555.94 1006.4 558.01 1006.8 560.62 1007.2 563.38 1007.6 564.85 1008 569.22 1008.4 566.33 1008.8 567.79 1009.2 572.59 1009.6 568.99 1010 575.34 1010.4 575.12 1010.8 578.88 1011.2 580.62 1011.6 582.39 1012 582.07 1012.4 583.5 1012.8 581.92 1013.2 583.73 1013.6 582.4 1014 579.02 1014.4 577.7 1014.8 577.8 1015.2 582.77 1015.6 575.36 1016 581.86 1016.4 578.96 1016.8 584.75 1017.2 581.69 1017.6 578.85 1018 581.06 1018.4 574.83 1018.8 581.79 1019.2 582.25 1019.6 575.3 1020 584.8 1020.4 580.48 1020.8 581.35 1021.2 576.59 1021.6 582.73 1022 582.69 1022.4 580.95 1022.8 578.04 1023.2 583.36 1023.6 584.77 1024 582.31 1024.4 584.18 1024.8 579.51 1025.2 581.74 1025.6 582.36 1026 581.69 1026.4 587.18 1026.8 583.75 1027.2 579.8 1027.6 584.05 1028 578.47 1028.4 582.94 1028.8 584.23 1029.2 580.57 1029.6 581.26 1030 579.55 1030.4 582.84 1030.8 580.56 1031.2 587.85 1031.6 584.65 1032 582.02 1032.4 578.48 1032.8 588.41 1033.2 586.55 1033.6 584.03 1034 583.23 1034.4 583.08 1034.8 581.04 1035.2 587.95 1035.6 582.75 1036 577.74 1036.4 579.31 1036.8 575.5 1037.2 583.72 1037.6 583.93 1038 586.85 1038.4 587.22 1038.8 579.11 1039.2 582.83 1039.6 584.49 1040 583.89 1040.4 580.05 1040.8 584 1041.2 583.1 1041.6 585.85 1042 581.75 1042.4 581.2 1042.8 580.47 1043.2 580.91 1043.6 579.79 1044 581.11 1044.4 583.66 1044.8 583.56 1045.2 586 1045.6 585.22 1046 583.73 1046.4 578.26 1046.8 583.33 1047.2 587.21 1047.6 577.35 1048 575.73 1048.4 578.24 1048.8 577.88 1049.2 580.09 1049.6 576.14 1050 582.04 1050.4 577.26 1050.8 580.57 1051.2 579.47 1051.6 578.17 1052 584.27 1052.4 581.32 1052.8 582.93 1053.2 580.32 1053.6 583.51 1054 583.28 1054.4 581.07 1054.8 576.28 1055.2 584.07 1055.6 583.65 1056 582.11 1056.4 582.23 1056.8 581.98 1057.2 582.25 1057.6 578.71 1058 581.68 1058.4 582.97 1058.8 580.33 1059.2 579.42 1059.6 588.09 1060 584.48 1060.4 581.92 1060.8 581.55 1061.2 577.06 1061.6 579.05 1062 582.68 1062.4 587.4 1062.8 577.41 1063.2 581.52 1063.6 589.32 1064 585.56 1064.4 584.76 1064.8 587.02 1065.2 583 1065.6 582.73 1066 585.31 1066.4 585.62 1066.8 579.82 1067.2 590.25 1067.6 577.68 1068 580.86 1068.4 588.78 1068.8 581.46 1069.2 585.07 1069.6 580.18 1070 582.29 1070.4 581.21 1070.8 582.31 1071.2 585.61 1071.6 589.01 1072 586.49 1072.4 588.63 1072.8 582.52 1073.2 588.6 1073.6 586.06 1074 588.54 1074.4 583.25 1074.8 583.67 1075.2 588.73 1075.6 586.53 1076 585.06 1076.4 582.69 1076.8 584.49 1077.2 586.33 1077.6 587.1 1078 583.39 1078.4 584.09 1078.8 586.48 1079.2 581.92 1079.6 588.05 1080 585.25 1080.4 584.99 1080.8 579.33 1081.2 580.63 1081.6 582.39 1082 583.79 1082.4 582.29 1082.8 586.7 1083.2 586.02 1083.6 584.39 1084 579.69 1084.4 589.94 1084.8 584.9 1085.2 587.5 1085.6 583.78 1086 585.88 1086.4 588 1086.8 586.67 1087.2 588.78 1087.6 585.36 1088 591.9 1088.4 580.25 1088.8 584.21 1089.2 588.74 1089.6 585 1090 584.44 1090.4 580.41 1090.8 589.3 1091.2 580 1091.6 587.14 1092 586.11" fill="none" stroke="#000" stroke-width="3.2" stroke-linejoin="round"/>
<rect x="173.5" y="14" width="921.2" height="617.7" fill="none" stroke="#000" stroke-width="4.9"/>
<line x1="161" y1="631.7" x2="173.5" y2="631.7" stroke="#000" stroke-width="4" stroke-linecap="butt"/>
<line x1="161" y1="528.75" x2="173.5" y2="528.75" stroke="#000" stroke-width="4" stroke-linecap="butt"/>
<line x1="161" y1="425.8" x2="173.5" y2="425.8" stroke="#000" stroke-width="4" stroke-linecap="butt"/>
<line x1="161" y1="322.85" x2="173.5" y2="322.85" stroke="#000" stroke-width="4" stroke-linecap="butt"/>
<line x1="161" y1="219.9" x2="173.5" y2="219.9" stroke="#000" stroke-width="4" stroke-linecap="butt"/>
<line x1="161" y1="116.95" x2="173.5" y2="116.95" stroke="#000" stroke-width="4" stroke-linecap="butt"/>
<line x1="161" y1="14" x2="173.5" y2="14" stroke="#000" stroke-width="4" stroke-linecap="butt"/>
<line x1="305.1" y1="631.7" x2="305.1" y2="621.7" stroke="#000" stroke-width="3.6" stroke-linecap="butt"/>
<line x1="436.7" y1="631.7" x2="436.7" y2="621.7" stroke="#000" stroke-width="3.6" stroke-linecap="butt"/>
<line x1="568.3" y1="631.7" x2="568.3" y2="621.7" stroke="#000" stroke-width="3.6" stroke-linecap="butt"/>
<line x1="699.9" y1="631.7" x2="699.9" y2="621.7" stroke="#000" stroke-width="3.6" stroke-linecap="butt"/>
<line x1="831.5" y1="631.7" x2="831.5" y2="621.7" stroke="#000" stroke-width="3.6" stroke-linecap="butt"/>
<line x1="963.1" y1="631.7" x2="963.1" y2="621.7" stroke="#000" stroke-width="3.6" stroke-linecap="butt"/>
<text transform="translate(124.61 641) scale(1.1651 1)" font-family='"Liberation Serif", serif' font-size="30.82">0</text>
<text transform="translate(88.7 538.05) scale(1.1651 1)" font-family='"Liberation Serif", serif' font-size="30.82">200</text>
<text transform="translate(88.7 435.1) scale(1.1651 1)" font-family='"Liberation Serif", serif' font-size="30.82">400</text>
<text transform="translate(88.7 332.15) scale(1.1651 1)" font-family='"Liberation Serif", serif' font-size="30.82">600</text>
<text transform="translate(88.7 229.2) scale(1.1651 1)" font-family='"Liberation Serif", serif' font-size="30.82">800</text>
<text transform="translate(70.74 126.25) scale(1.1651 1)" font-family='"Liberation Serif", serif' font-size="30.82">1000</text>
<text transform="translate(70.74 23.3) scale(1.1651 1)" font-family='"Liberation Serif", serif' font-size="30.82">1200</text>
<text transform="translate(156.38 675.6) scale(1.0905 1)" font-family='"Liberation Sans", sans-serif' font-size="27.95">20</text>
<text transform="translate(288.02 675.6) scale(1.0905 1)" font-family='"Liberation Sans", sans-serif' font-size="27.95">25</text>
<text transform="translate(419.76 675.6) scale(1.0905 1)" font-family='"Liberation Sans", sans-serif' font-size="27.95">30</text>
<text transform="translate(551.41 675.6) scale(1.0905 1)" font-family='"Liberation Sans", sans-serif' font-size="27.95">35</text>
<text transform="translate(683.2 675.6) scale(1.0905 1)" font-family='"Liberation Sans", sans-serif' font-size="27.95">40</text>
<text transform="translate(814.84 675.6) scale(1.0905 1)" font-family='"Liberation Sans", sans-serif' font-size="27.95">45</text>
<text transform="translate(946.14 675.6) scale(1.0905 1)" font-family='"Liberation Sans", sans-serif' font-size="27.95">50</text>
<text transform="translate(1077.78 675.6) scale(1.0905 1)" font-family='"Liberation Sans", sans-serif' font-size="27.95">55</text>
<text transform="translate(550.86 733.78) scale(1.0713 1)" font-family='"Liberation Serif", serif' font-size="41.31">2θ, degree</text>
<text transform="translate(49 437.11) rotate(-90) scale(0.9758 1)" font-family='"Liberation Serif", serif' font-size="45.66">Intensity (%)</text>
<path d="M1046.9 126 L1046.9 91.5 C1046.9 80 1040.5 75.4 1030.5 75.4 C1024 75.4 1018.5 77.2 1013.8 80.3" fill="none" stroke="#000" stroke-width="8.6"/>
<path d="M1046.9 97.9 L1032 97.9 C1020.5 97.9 1014.6 103 1014.6 110.8 C1014.6 118.3 1019.8 122.4 1026.8 122.4 C1034.5 122.4 1041 117.5 1046.9 110.8" fill="none" stroke="#000" stroke-width="8.2"/>
<text transform="translate(523.78 53.5) scale(0.7730 1)" font-family='"Liberation Sans", sans-serif' font-size="33.81">(</text>
<text transform="translate(592.12 53.5) scale(0.7730 1)" font-family='"Liberation Sans", sans-serif' font-size="33.81">)</text>
<text transform="translate(534.21 54.04) scale(1.0728 1)" font-family='"Liberation Sans", sans-serif' font-size="30.9">112</text>
<text transform="translate(511.78 321.7) scale(0.7730 1)" font-family='"Liberation Sans", sans-serif' font-size="33.81">(</text>
<text transform="translate(579.52 321.7) scale(0.7730 1)" font-family='"Liberation Sans", sans-serif' font-size="33.81">)</text>
<text transform="translate(523.53 321.94) scale(1.0417 1)" font-family='"Liberation Sans", sans-serif' font-size="30.48">300</text>
<text transform="translate(280.4 439.11) scale(0.7730 1)" font-family='"Liberation Sans", sans-serif' font-size="33.27">(</text>
<text transform="translate(351.03 439.11) scale(0.7730 1)" font-family='"Liberation Sans", sans-serif' font-size="33.27">)</text>
<text transform="translate(291.83 439.35) scale(1.1334 1)" font-family='"Liberation Sans", sans-serif' font-size="29.99">002</text>
<text transform="translate(381.48 528.42) scale(0.7730 1)" font-family='"Liberation Sans", sans-serif' font-size="31.77">(</text>
<text transform="translate(449.34 528.42) scale(0.7730 1)" font-family='"Liberation Sans", sans-serif' font-size="31.77">)</text>
<text transform="translate(392.01 528.65) scale(1.1430 1)" font-family='"Liberation Sans", sans-serif' font-size="28.64">210</text>
<text transform="translate(545.98 502.42) scale(0.7730 1)" font-family='"Liberation Sans", sans-serif' font-size="33.7">(</text>
<text transform="translate(612.84 502.42) scale(0.7730 1)" font-family='"Liberation Sans", sans-serif' font-size="33.7">)</text>
<text transform="translate(557.31 502.67) scale(1.0433 1)" font-family='"Liberation Sans", sans-serif' font-size="30.38">202</text>
<text transform="translate(675.26 514.43) scale(0.7730 1)" font-family='"Liberation Sans", sans-serif' font-size="34.13">(</text>
<text transform="translate(742.05 514.43) scale(0.7730 1)" font-family='"Liberation Sans", sans-serif' font-size="34.13">)</text>
<text transform="translate(687.17 514.68) scale(1.0091 1)" font-family='"Liberation Sans", sans-serif' font-size="30.77">310</text>
<text transform="translate(843.47 514.48) scale(0.7730 1)" font-family='"Liberation Sans", sans-serif' font-size="33.92">(</text>
<text transform="translate(911.19 514.48) scale(0.7730 1)" font-family='"Liberation Sans", sans-serif' font-size="33.92">)</text>
<text transform="translate(854.86 515.02) scale(1.0379 1)" font-family='"Liberation Sans", sans-serif' font-size="31">222</text>
<text transform="translate(860.57 416.28) scale(0.7730 1)" font-family='"Liberation Sans", sans-serif' font-size="33.92">(</text>
<text transform="translate(929.19 416.28) scale(0.7730 1)" font-family='"Liberation Sans", sans-serif' font-size="33.92">)</text>
<text transform="translate(872.35 416.52) scale(1.0554 1)" font-family='"Liberation Sans", sans-serif' font-size="30.57">320</text>
<text transform="translate(955.31 425.03) scale(0.7730 1)" font-family='"Liberation Sans", sans-serif' font-size="33.17">(</text>
<text transform="translate(1025.95 425.03) scale(0.7730 1)" font-family='"Liberation Sans", sans-serif' font-size="33.17">)</text>
<text transform="translate(966.31 425.27) scale(1.1421 1)" font-family='"Liberation Sans", sans-serif' font-size="29.9">213</text>
<text transform="translate(968.17 522.58) scale(0.7730 1)" font-family='"Liberation Sans", sans-serif' font-size="33.92">(</text>
<text transform="translate(1037.49 522.58) scale(0.7730 1)" font-family='"Liberation Sans", sans-serif' font-size="33.92">)</text>
<text transform="translate(979.92 522.82) scale(1.0764 1)" font-family='"Liberation Sans", sans-serif' font-size="30.57">321</text>
<text transform="translate(967.06 522.53) scale(0.7505 1)" font-family='"Liberation Sans", sans-serif' font-size="33.17">(</text>
<path d="M935.9 534.3L905.5 430.3M900.3 453L905.5 430.3L924.6 446.6" fill="none" stroke="#000" stroke-width="1.7" stroke-linejoin="miter"/>
<path d="M953.4 525L982.6 444.3M961.6 461.4L982.6 444.3L987.8 468.8" fill="none" stroke="#000" stroke-width="1.7" stroke-linejoin="miter"/>
<path d="M180 1407.54 180.6 1406.91 181.2 1408.2 181.8 1409 182.4 1409.86 183 1408.63 183.6 1407.84 184.2 1407.56 184.8 1409.4 185.4 1410.46 186 1408.83 186.6 1407.02 187.2 1407.35 187.8 1410.42 188.4 1408.74 189 1406.42 189.6 1408.28 190.2 1407.1 190.8 1407.74 191.4 1407.91 192 1407.64 192.6 1409.16 193.2 1408.42 193.8 1407.79 194.4 1408.99 195 1410.69 195.6 1406.53 196.2 1408.19 196.8 1407.32 197.4 1408.29 198 1406.95 198.6 1408.52 199.2 1408.45 199.8 1407.7 200.4 1407.24 201 1408.02 201.6 1407.19 202.2 1406.87 202.8 1408.77 203.4 1407.17 204 1409.9 204.6 1409.36 205.2 1406.1 205.8 1408.83 206.4 1407.18 207 1408.54 207.6 1408.55 208.2 1406.11 208.8 1408.22 209.4 1408.19 210 1409.65 210.6 1407.08 211.2 1409.39 211.8 1407.18 212.4 1408.1 213 1407.49 213.6 1410.24 214.2 1409.18 214.8 1411.42 215.4 1409.27 216 1409.51 216.6 1409.51 217.2 1407.77 217.8 1408.42 218.4 1410.12 219 1408.02 219.6 1408.73 220.2 1408.47 220.8 1409.23 221.4 1408.06 222 1408.32 222.6 1408.79 223.2 1408.62 223.8 1407.46 224.4 1409.57 225 1406.94 225.6 1407.06 226.2 1406.96 226.8 1409.66 227.4 1408.07 228 1407.33 228.6 1407.14 229.2 1409.01 229.8 1407.23 230.4 1406.97 231 1409.24 231.6 1407.06 232.2 1408.11 232.8 1408.49 233.4 1407.97 234 1408.44 234.6 1410.11 235.2 1407.88 235.8 1406.99 236.4 1406.3 237 1408.25 237.6 1408.08 238.2 1408.82 238.8 1407.94 239.4 1407.93 240 1407.63 240.6 1407.88 241.2 1408.69 241.8 1408.04 242.4 1408.62 243 1410.78 243.6 1409.07 244.2 1406.61 244.8 1410.58 245.4 1408.92 246 1407.37 246.6 1409.59 247.2 1408.52 247.8 1407.76 248.4 1407.74 249 1407.31 249.6 1408.56 250.2 1409.78 250.8 1408.11 251.4 1409 252 1410.75 252.6 1407.04 253.2 1408.81 253.8 1408.13 254.4 1407.23 255 1407.27 255.6 1408.48 256.2 1409.02 256.8 1407.86 257.4 1408.57 258 1409.37 258.6 1408.86 259.2 1409.54 259.8 1409.05 260.4 1409.09 261 1410.69 261.6 1409.25 262.2 1408.66 262.8 1409.35 263.4 1407.4 264 1408.09 264.6 1409.45 265.2 1409.26 265.8 1410.36 266.4 1408.51 267 1406.75 267.6 1410.84 268.2 1409.81 268.8 1407.23 269.4 1410.15 270 1408.54 270.6 1406.32 271.2 1408 271.8 1407.89 272.4 1412.7 273 1407.55 273.6 1408.2 274.2 1408.17 274.8 1408.04 275.4 1407.4 276 1408.76 276.6 1409.79 277.2 1409.24 277.8 1407.38 278.4 1407.1 279 1408.62 279.6 1407.61 280.2 1407.69 280.8 1406.41 281.4 1410.7 282 1409.41 282.6 1407.1 283.2 1409.22 283.8 1409.58 284.4 1405.09 285 1406.98 285.6 1406.86 286.2 1407.58 286.8 1406.23 287.4 1405.46 288 1404.81 288.6 1405.47 289.2 1404.33 289.8 1400.68 290.4 1398.65 291 1398.63 291.6 1394.18 292.2 1391.6 292.8 1388.66 293.4 1385.25 294 1381.5 294.6 1377.27 295.2 1372.84 295.8 1368.6 296.4 1364.23 297 1360.11 297.6 1356.14 298.2 1352.69 298.8 1349.96 299.4 1348.11 300 1347.29 300.6 1348.03 301.2 1349.96 301.8 1352.71 302.4 1356.16 303 1359.94 303.6 1364.22 304.2 1368.59 304.8 1372.81 305.4 1377.13 306 1381.59 306.6 1385.92 307.2 1388.49 307.8 1391.44 308.4 1394.58 309 1396.17 309.6 1397.64 310.2 1398.25 310.8 1399.69 311.4 1400.11 312 1402.08 312.6 1399.83 313.2 1400.52 313.8 1400.18 314.4 1398.67 315 1399.14 315.6 1394.95 316.2 1397.15 316.8 1396.83 317.4 1394.39 318 1394.31 318.6 1394.59 319.2 1393.15 319.8 1391.94 320.4 1391.33 321 1390.3 321.6 1389.74 322.2 1388.57 322.8 1387.18 323.4 1385.78 324 1384.46 324.6 1382.96 325.2 1380.64 325.8 1378.39 326.4 1375.82 327 1372.98 327.6 1370.11 328.2 1367.05 328.8 1363.67 329.4 1359.87 330 1355.34 330.6 1349.84 331.2 1342.17 331.8 1329.31 332.4 1313.62 333 1298.77 333.6 1283.67 334.2 1268.35 334.8 1252.6 335.4 1237.61 336 1223.81 336.6 1210.86 337.2 1198.55 337.8 1187.19 338.4 1176.83 339 1167.1 339.6 1157.65 340.2 1148.14 340.8 1138.2 341.4 1127.41 342 1116.35 342.6 1105.83 343.2 1096.63 343.8 1089.58 344.4 1084.24 345 1078.62 345.6 1070.6 346.2 1058.49 346.8 1043.58 347.4 1027.35 348 1007.65 348.6 987.44 349.2 970.74 349.8 956.48 350.4 943.67 351 933 351.6 925.46 352.2 925.45 352.8 933.8 353.4 955.88 354 992.94 354.6 1015.21 355.2 1045.96 355.8 1083.51 356.4 1107.24 357 1128.92 357.6 1156.7 358.2 1189.82 358.8 1218.85 359.4 1243.81 360 1264.96 360.6 1280.8 361.2 1293.65 361.8 1304.2 362.4 1312.6 363 1319.93 363.6 1326.45 364.2 1332.27 364.8 1337.52 365.4 1342.25 366 1346.57 366.6 1350.67 367.2 1354.52 367.8 1358.06 368.4 1361.31 369 1364.15 369.6 1366.53 370.2 1368.75 370.8 1370.27 371.4 1372.02 372 1373.92 372.6 1375.19 373.2 1376.44 373.8 1377.72 374.4 1379.26 375 1380.29 375.6 1381.35 376.2 1382.05 376.8 1383.06 377.4 1383.49 378 1384 378.6 1384.33 379.2 1384.56 379.8 1384.06 380.4 1383.86 381 1382.19 381.6 1381.37 382.2 1380.33 382.8 1378.25 383.4 1376.52 384 1374.3 384.6 1371.67 385.2 1368.63 385.8 1365.31 386.4 1362.12 387 1358.61 387.6 1354.72 388.2 1350.43 388.8 1345.48 389.4 1339.49 390 1331.7 390.6 1322.7 391.2 1313.26 391.8 1304.2 392.4 1295.81 393 1286.25 393.6 1273.5 394.2 1252.51 394.8 1222.62 395.4 1186.43 396 1141.6 396.6 1114.43 397.2 1089.54 397.8 1063.08 398.4 1033 399 993.06 399.6 944.52 400.2 906.75 400.8 893.46 401.4 885.56 402 885.25 402.6 892 403.2 902.48 403.8 921.24 404.4 953.71 405 982.47 405.6 1004.2 406.2 1022.78 406.8 1037.47 407.4 1049.34 408 1059.57 408.6 1069 409.2 1078.27 409.8 1086.83 410.4 1095.47 411 1103.93 411.6 1112.17 412.2 1120.79 412.8 1130.4 413.4 1141.6 414 1155.94 414.6 1173.33 415.2 1191.92 415.8 1211.27 416.4 1232.32 417 1253.57 417.6 1273.5 418.2 1292.63 418.8 1308.6 419.4 1319.94 420 1329.44 420.6 1337.56 421.2 1344.85 421.8 1351.59 422.4 1357.58 423 1362.96 423.6 1367.83 424.2 1372.27 424.8 1376.53 425.4 1380.58 426 1384.03 426.6 1386.86 427.2 1389.07 427.8 1390.94 428.4 1392.89 429 1395.1 429.6 1396.61 430.2 1396.67 430.8 1397.55 431.4 1399.65 432 1400.1 432.6 1400.84 433.2 1399.89 433.8 1401.3 434.4 1401.76 435 1402.95 435.6 1401.6 436.2 1404.89 436.8 1404.3 437.4 1404.8 438 1403.41 438.6 1404.93 439.2 1406.68 439.8 1403.68 440.4 1405.95 441 1406.54 441.6 1405.09 442.2 1406.97 442.8 1405.76 443.4 1407.71 444 1406.98 444.6 1406.69 445.2 1408.88 445.8 1407.5 446.4 1408.07 447 1405.07 447.6 1405.72 448.2 1407.5 448.8 1407.59 449.4 1406.43 450 1407.44 450.6 1405.23 451.2 1406.76 451.8 1405.12 452.4 1407.4 453 1405.92 453.6 1405.73 454.2 1406.57 454.8 1408.68 455.4 1405.29 456 1405.78 456.6 1407.78 457.2 1405.99 457.8 1408.62 458.4 1406.77 459 1406.61 459.6 1406.93 460.2 1408.59 460.8 1407.29 461.4 1407.12 462 1406.8 462.6 1404.63 463.2 1405.44 463.8 1408.28 464.4 1407.49 465 1407.11 465.6 1407.26 466.2 1405.85 466.8 1406.91 467.4 1405.42 468 1406.97 468.6 1405.64 469.2 1406.24 469.8 1407.04 470.4 1406.11 471 1407.28 471.6 1407.05 472.2 1406.93 472.8 1408.09 473.4 1404.73 474 1404.58 474.6 1407.24 475.2 1407.63 475.8 1408.91 476.4 1408.5 477 1407.5 477.6 1404.17 478.2 1407.4 478.8 1407.31 479.4 1405.23 480 1405.42 480.6 1406.37 481.2 1406.85 481.8 1403 482.4 1406.58 483 1406.78 483.6 1406.29 484.2 1406.82 484.8 1407.05 485.4 1405.29 486 1407 486.6 1406.2 487.2 1405.36 487.8 1406.75 488.4 1408.29 489 1404.75 489.6 1404.52 490.2 1404.52 490.8 1408.87 491.4 1406.2 492 1406.43 492.6 1405.56 493.2 1405.37 493.8 1404.07 494.4 1406.7 495 1406.81 495.6 1404.13 496.2 1405.25 496.8 1405.61 497.4 1406.47 498 1406.79 498.6 1407.85 499.2 1410.1 499.8 1407.78 500.4 1408.11 501 1405.1 501.6 1405.83 502.2 1407.87 502.8 1406.85 503.4 1406.52 504 1404.13 504.6 1404.27 505.2 1407.38 505.8 1406.91 506.4 1406.14 507 1406 507.6 1404.43 508.2 1406.95 508.8 1407.74 509.4 1408.47 510 1406.56 510.6 1406.25 511.2 1405.18 511.8 1407.97 512.4 1408.55 513 1405.76 513.6 1406.85 514.2 1406.61 514.8 1405.81 515.4 1403.5 516 1406.06 516.6 1407.23 517.2 1404.77 517.8 1405.49 518.4 1403 519 1408.04 519.6 1407.1 520.2 1406.55 520.8 1406.18 521.4 1405.74 522 1406.41 522.6 1406.13 523.2 1406.2 523.8 1406.46 524.4 1406.65 525 1408.36 525.6 1404.76 526.2 1406.81 526.8 1405.75 527.4 1405.13 528 1403.66 528.6 1407.23 529.2 1405.31 529.8 1405.59 530.4 1407.05 531 1405.19 531.6 1406.52 532.2 1406.4 532.8 1408.59 533.4 1407.7 534 1405.44 534.6 1407.58 535.2 1406.36 535.8 1406.62 536.4 1406.21 537 1407.38 537.6 1404.99 538.2 1406.73 538.8 1407.8 539.4 1406.02 540 1411.59 540.6 1405.39 541.2 1406.43 541.8 1405.51 542.4 1405.22 543 1404.49 543.6 1404.94 544.2 1405.21 544.8 1404.05 545.4 1405.41 546 1405.48 546.6 1401.8 547.2 1403.23 547.8 1401.64 548.4 1400.48 549 1400.65 549.6 1397.98 550.2 1395.43 550.8 1393.05 551.4 1389.45 552 1387.57 552.6 1383.7 553.2 1380.1 553.8 1375.81 554.4 1371.19 555 1366.11 555.6 1360.45 556.2 1354.51 556.8 1348.18 557.4 1341.65 558 1334.9 558.6 1328.01 559.2 1321.15 559.8 1314.36 560.4 1307.8 561 1301.6 561.6 1295.89 562.2 1290.79 562.8 1286.45 563.4 1282.99 564 1280.52 564.6 1279.19 565.2 1279.18 565.8 1280.47 566.4 1282.84 567 1286.18 567.6 1290.38 568.2 1295.31 568.8 1300.85 569.4 1306.88 570 1313.27 570.6 1319.88 571.2 1326.62 571.8 1333.38 572.4 1340.03 573 1346.51 573.6 1352.74 574.2 1358.69 574.8 1364.28 575.4 1369.26 576 1374.18 576.6 1378.82 577.2 1382.61 577.8 1385.71 578.4 1388.81 579 1390.88 579.6 1393.79 580.2 1397.26 580.8 1398.01 581.4 1398.93 582 1400.38 582.6 1401.83 583.2 1402.72 583.8 1403.21 584.4 1403.38 585 1405.34 585.6 1406.74 586.2 1404.74 586.8 1405.02 587.4 1407.2 588 1404.29 588.6 1405.42 589.2 1405.76 589.8 1406.48 590.4 1406.01 591 1405.32 591.6 1406.78 592.2 1405.02 592.8 1404.37 593.4 1404.04 594 1407.37 594.6 1404.4 595.2 1407.02 595.8 1407.3 596.4 1407.46 597 1406.29 597.6 1405.84 598.2 1406.6 598.8 1405.79 599.4 1404.96 600 1408.01 600.6 1405.43 601.2 1408.65 601.8 1407.12 602.4 1405.95 603 1407.03 603.6 1407.98 604.2 1404.85 604.8 1405.39 605.4 1405.24 606 1406.7 606.6 1406.99 607.2 1406.54 607.8 1405.63 608.4 1405.87 609 1407.93 609.6 1407.84 610.2 1406.66 610.8 1404.93 611.4 1407.26 612 1406.85 612.6 1406.81 613.2 1408.58 613.8 1407.49 614.4 1405.34 615 1405.35 615.6 1408.16 616.2 1406.75 616.8 1407.57 617.4 1406.38 618 1405.37 618.6 1406.9 619.2 1408.45 619.8 1406.99 620.4 1405.23 621 1406.22 621.6 1406 622.2 1406.81 622.8 1407.83 623.4 1408.98 624 1406.89 624.6 1406.11 625.2 1406.72 625.8 1406.65 626.4 1406.12 627 1406.66 627.6 1406.63 628.2 1405.22 628.8 1407.28 629.4 1406.18 630 1405.43 630.6 1407.18 631.2 1405.98 631.8 1408.6 632.4 1407.03 633 1406.45 633.6 1405.34 634.2 1405.55 634.8 1406.68 635.4 1404.57 636 1405.58 636.6 1401.93 637.2 1403.29 637.8 1402.61 638.4 1400.64 639 1398.52 639.6 1396.92 640.2 1393.29 640.8 1390.38 641.4 1387.58 642 1384.39 642.6 1380.54 643.2 1376.8 643.8 1373.42 644.4 1370.3 645 1367.53 645.6 1365.5 646.2 1364.58 646.8 1364.41 647.4 1365.52 648 1367.26 648.6 1369.67 649.2 1372.7 649.8 1375.89 650.4 1379.28 651 1383.14 651.6 1385.97 652.2 1389.16 652.8 1392.84 653.4 1394.29 654 1396.17 654.6 1400.16 655.2 1401.14 655.8 1402.77 656.4 1403.95 657 1405.13 657.6 1404.38 658.2 1405.31 658.8 1404.52 659.4 1406.22 660 1406.54 660.6 1405.88 661.2 1407.31 661.8 1409.92 662.4 1405.26 663 1407.66 663.6 1407.82 664.2 1407.99 664.8 1405.76 665.4 1408.17 666 1407.52 666.6 1406.6 667.2 1406.34 667.8 1407.6 668.4 1407.88 669 1407.83 669.6 1409.52 670.2 1406.35 670.8 1407.53 671.4 1406.27 672 1407.73 672.6 1406.95 673.2 1406.08 673.8 1405.21 674.4 1405.88 675 1407.09 675.6 1408.57 676.2 1407.73 676.8 1405.37 677.4 1406.22 678 1406.84 678.6 1406.64 679.2 1406.85 679.8 1407.7 680.4 1407.01 681 1405.91 681.6 1404.42 682.2 1406.32 682.8 1404.7 683.4 1406.51 684 1407.08 684.6 1405.08 685.2 1406.5 685.8 1406.25 686.4 1408.93 687 1407.19 687.6 1404.37 688.2 1407.16 688.8 1407.12 689.4 1406.37 690 1406.16 690.6 1407.32 691.2 1407.4 691.8 1407.12 692.4 1405.4 693 1406.29 693.6 1404.72 694.2 1404.79 694.8 1405.91 695.4 1405.31 696 1406.08 696.6 1409.55 697.2 1407.16 697.8 1405.5 698.4 1403.97 699 1405.55 699.6 1404.83 700.2 1403.91 700.8 1407.42 701.4 1405.97 702 1407.07 702.6 1410.19 703.2 1406.87 703.8 1406.69 704.4 1406.96 705 1406.22 705.6 1405.55 706.2 1406.28 706.8 1407.89 707.4 1406.19 708 1404.85 708.6 1404.97 709.2 1405.18 709.8 1406.34 710.4 1406.79 711 1406.64 711.6 1407.25 712.2 1405.39 712.8 1406.18 713.4 1405.14 714 1404.89 714.6 1401.61 715.2 1403.52 715.8 1399.87 716.4 1398.79 717 1398.31 717.6 1395.1 718.2 1393.91 718.8 1390.18 719.4 1386.46 720 1383.13 720.6 1378.98 721.2 1374.96 721.8 1370.39 722.4 1365.66 723 1360.99 723.6 1356.59 724.2 1352.51 724.8 1348.82 725.4 1345.81 726 1343.61 726.6 1342.29 727.2 1342.07 727.8 1342.97 728.4 1344.73 729 1347.37 729.6 1350.55 730.2 1354.23 730.8 1358.31 731.4 1362.63 732 1367.26 732.6 1371.61 733.2 1375.62 733.8 1380.28 734.4 1384.08 735 1386.89 735.6 1389.33 736.2 1393.68 736.8 1395.33 737.4 1397.7 738 1399.19 738.6 1402.12 739.2 1403.64 739.8 1404.11 740.4 1404 741 1405.08 741.6 1405.98 742.2 1403.95 742.8 1407.41 743.4 1405.86 744 1406.71 744.6 1406.69 745.2 1407.7 745.8 1407.96 746.4 1409.37 747 1406.36 747.6 1405.72 748.2 1406.99 748.8 1406.06 749.4 1407.89 750 1405.89 750.6 1407.03 751.2 1408 751.8 1408.1 752.4 1407.13 753 1408.58 753.6 1408.43 754.2 1404.85 754.8 1407.32 755.4 1407.41 756 1406.53 756.6 1406.12 757.2 1406.93 757.8 1407.32 758.4 1407.16 759 1408.42 759.6 1407.92 760.2 1405.98 760.8 1405.68 761.4 1408.63 762 1405.42 762.6 1406.14 763.2 1406.13 763.8 1406.24 764.4 1405.08 765 1405.2 765.6 1402.43 766.2 1402.24 766.8 1399.72 767.4 1398.61 768 1396.47 768.6 1392.95 769.2 1390.04 769.8 1388.22 770.4 1384.36 771 1380.29 771.6 1375.79 772.2 1371.22 772.8 1366.43 773.4 1361.42 774 1356.5 774.6 1351.62 775.2 1347.06 775.8 1342.98 776.4 1339.46 777 1336.71 777.6 1334.83 778.2 1334.02 778.8 1334.39 779.4 1335.71 780 1337.85 780.6 1340.71 781.2 1344.14 781.8 1348.09 782.4 1352.3 783 1356.78 783.6 1361.38 784.2 1365.83 784.8 1370.33 785.4 1374.91 786 1378.88 786.6 1383.09 787.2 1386.25 787.8 1389.38 788.4 1393.31 789 1394.92 789.6 1397.93 790.2 1398.07 790.8 1400.73 791.4 1402.29 792 1403.96 792.6 1404.84 793.2 1405.5 793.8 1405.09 794.4 1404.92 795 1406.99 795.6 1406.24 796.2 1407.52 796.8 1408.16 797.4 1406.96 798 1405.76 798.6 1406.6 799.2 1407.89 799.8 1406.72 800.4 1408.44 801 1407.11 801.6 1407.24 802.2 1406.34 802.8 1406.98 803.4 1408.42 804 1406.7 804.6 1406.72 805.2 1406.18 805.8 1408.05 806.4 1405.29 807 1406.33 807.6 1408.2 808.2 1408.82 808.8 1406.84 809.4 1408.26 810 1404.73 810.6 1408.01 811.2 1407.46 811.8 1405.64 812.4 1404.97 813 1406.5 813.6 1407.42 814.2 1407.55 814.8 1407.24 815.4 1408.03 816 1407.95 816.6 1405.45 817.2 1406.65 817.8 1406.5 818.4 1408.34 819 1406.52 819.6 1408.32 820.2 1407.22 820.8 1409.93 821.4 1407.06 822 1407.12 822.6 1406.98 823.2 1407.29 823.8 1410.03 824.4 1406.52 825 1406.07 825.6 1406.88 826.2 1407.93 826.8 1405.93 827.4 1408.08 828 1408.04 828.6 1406.92 829.2 1406.81 829.8 1406.17 830.4 1406.77 831 1406.13 831.6 1408.54 832.2 1408.95 832.8 1406.6 833.4 1406.76 834 1404.41 834.6 1405.7 835.2 1406.22 835.8 1405.47 836.4 1404.37 837 1403.74 837.6 1401.33 838.2 1398.78 838.8 1397.21 839.4 1392 840 1388.51 840.6 1384.21 841.2 1379.32 841.8 1374.15 842.4 1368.99 843 1363.96 843.6 1359.52 844.2 1355.86 844.8 1353.19 845.4 1351.75 846 1351.6 846.6 1353.02 847.2 1355.9 847.8 1359.88 848.4 1364.44 849 1369.25 849.6 1373.7 850.2 1377.44 850.8 1379.72 851.4 1381.47 852 1381.28 852.6 1380.04 853.2 1376.96 853.8 1373.04 854.4 1368.28 855 1363.09 855.6 1357.63 856.2 1352.54 856.8 1347.96 857.4 1344.29 858 1341.74 858.6 1340.58 859.2 1340.78 859.8 1342.02 860.4 1344.34 861 1347.51 861.6 1351.48 862.2 1356.05 862.8 1361.03 863.4 1366.09 864 1371.18 864.6 1376.56 865.2 1381.12 865.8 1385.69 866.4 1389.74 867 1393.22 867.6 1395.7 868.2 1398.26 868.8 1399.23 869.4 1402.22 870 1402.95 870.6 1404.37 871.2 1407.11 871.8 1406.47 872.4 1406.19 873 1404.87 873.6 1407.4 874.2 1408.38 874.8 1405.68 875.4 1407 876 1405.75 876.6 1405.86 877.2 1405.21 877.8 1401.39 878.4 1403.71 879 1401.71 879.6 1403.01 880.2 1400.98 880.8 1398.2 881.4 1395.87 882 1392.83 882.6 1389.5 883.2 1385.64 883.8 1381.25 884.4 1376.6 885 1371.5 885.6 1366.41 886.2 1361.23 886.8 1356.16 887.4 1351.31 888 1346.98 888.6 1343.19 889.2 1340.23 889.8 1338.19 890.4 1337.14 891 1337.17 891.6 1338.3 892.2 1340.52 892.8 1343.74 893.4 1347.82 894 1352.51 894.6 1357.73 895.2 1363.06 895.8 1368.66 896.4 1374.04 897 1379.13 897.6 1383.66 898.2 1387.33 898.8 1391.03 899.4 1394.98 900 1397.93 900.6 1397.69 901.2 1401.2 901.8 1404.03 902.4 1405.01 903 1404.41 903.6 1406.14 904.2 1405.86 904.8 1405.74 905.4 1407.13 906 1406.88 906.6 1404.66 907.2 1403.53 907.8 1402.23 908.4 1400.86 909 1401.28 909.6 1399.36 910.2 1395.75 910.8 1393.23 911.4 1389.36 912 1386.27 912.6 1383.17 913.2 1379.84 913.8 1376.93 914.4 1374.13 915 1372.79 915.6 1372.07 916.2 1372.05 916.8 1372.96 917.4 1374.53 918 1376.91 918.6 1379.8 919.2 1383.1 919.8 1386.33 920.4 1389.44 921 1392.67 921.6 1396.16 922.2 1398.07 922.8 1399.65 923.4 1401.29 924 1403.8 924.6 1405.18 925.2 1406.72 925.8 1405.7 926.4 1408 927 1406.37 927.6 1406.69 928.2 1405.69 928.8 1407.78 929.4 1408.44 930 1407.22 930.6 1406.68 931.2 1405.48 931.8 1407.7 932.4 1406.89 933 1407.05 933.6 1406.56 934.2 1406.27 934.8 1406.79 935.4 1407.82 936 1408.41 936.6 1407.28 937.2 1407.67 937.8 1407.07 938.4 1407.15 939 1405.71 939.6 1408.33 940.2 1408 940.8 1409 941.4 1406.59 942 1407.46 942.6 1406.23 943.2 1407.59 943.8 1407.16 944.4 1408.09 945 1407.12 945.6 1408.02 946.2 1406.67 946.8 1407.86 947.4 1406.72 948 1406.41 948.6 1406.76 949.2 1406.71 949.8 1404.32 950.4 1403.6 951 1404.42 951.6 1403.08 952.2 1400.17 952.8 1399.04 953.4 1398.1 954 1397.04 954.6 1395.25 955.2 1394.07 955.8 1392.84 956.4 1392.41 957 1390.47 957.6 1391.11 958.2 1392.14 958.8 1392.18 959.4 1393.43 960 1395.83 960.6 1398.12 961.2 1400.04 961.8 1399.5 962.4 1401.3 963 1403.48 963.6 1404.09 964.2 1405.75 964.8 1406.19 965.4 1408.43 966 1406.75 966.6 1407.24 967.2 1407.27 967.8 1408.55 968.4 1406.04 969 1407.81 969.6 1406.49 970.2 1405.75 970.8 1408.78 971.4 1408.03 972 1409.05 972.6 1407.72 973.2 1408.18 973.8 1407.59 974.4 1408.1 975 1406.96 975.6 1409.43 976.2 1406.41 976.8 1409.44 977.4 1407.22 978 1408.47 978.6 1407.62 979.2 1407.99 979.8 1409.21 980.4 1407.91 981 1406.37 981.6 1407.76 982.2 1408.24 982.8 1404.61 983.4 1408.63 984 1408.77 984.6 1405.42 985.2 1407.31 985.8 1408.46 986.4 1406.14 987 1407.01 987.6 1407.11 988.2 1408.17 988.8 1408.82 989.4 1407.48 990 1407.59 990.6 1408.61 991.2 1408.16 991.8 1407.4 992.4 1409.09 993 1405.86 993.6 1407.7 994.2 1407.02 994.8 1406.9 995.4 1407.68 996 1407.42 996.6 1410.1 997.2 1407.79 997.8 1407.12 998.4 1408.03 999 1406.58 999.6 1402.75 1000.2 1403.36 1000.8 1402.19 1001.4 1399.18 1002 1397.47 1002.6 1394.56 1003.2 1392.38 1003.8 1389.19 1004.4 1387.06 1005 1385.93 1005.6 1385.25 1006.2 1385.4 1006.8 1385.56 1007.4 1386.64 1008 1388.92 1008.6 1390.77 1009.2 1393.94 1009.8 1395.49 1010.4 1396.66 1011 1399.42 1011.6 1401.06 1012.2 1402.13 1012.8 1403.85 1013.4 1404.84 1014 1405.94 1014.6 1406.14 1015.2 1407.56 1015.8 1407.81 1016.4 1407.69 1017 1407.81 1017.6 1405.41 1018.2 1405.7 1018.8 1406.66 1019.4 1408.02 1020 1406 1020.6 1407.24 1021.2 1408.05 1021.8 1410.12 1022.4 1408.08 1023 1407.15 1023.6 1409.09 1024.2 1408.04 1024.8 1407.45 1025.4 1409.14 1026 1406.73 1026.6 1408.06 1027.2 1407.94 1027.8 1408.92 1028.4 1406.5 1029 1406.33 1029.6 1407.41 1030.2 1407.56 1030.8 1407.94 1031.4 1407.46 1032 1408.43 1032.6 1408.75 1033.2 1408.2 1033.8 1406.69 1034.4 1409.33 1035 1406.14 1035.6 1407.73 1036.2 1409.05 1036.8 1406.38 1037.4 1409.55 1038 1410.3 1038.6 1409.91 1039.2 1408.57 1039.8 1409.23 1040.4 1407.46 1041 1408.56 1041.6 1408.64 1042.2 1408.22 1042.8 1408.31 1043.4 1407.89 1044 1405.81 1044.6 1408.64 1045.2 1408.55 1045.8 1410.64 1046.4 1409.06 1047 1408.3 1047.6 1409.28 1048.2 1408.99 1048.8 1408.24 1049.4 1407.82 1050 1406.54 1050.6 1408.45 1051.2 1410.26 1051.8 1406.11 1052.4 1407.21 1053 1409.26 1053.6 1408.61 1054.2 1408.89 1054.8 1406.18 1055.4 1407.71 1056 1409.04 1056.6 1409.15 1057.2 1408.81 1057.8 1407.42 1058.4 1409.14 1059 1407.08 1059.6 1407.4 1060.2 1407.14 1060.8 1410.27 1061.4 1408.07 1062 1408.64 1062.6 1405.96 1063.2 1409.91 1063.8 1409.17 1064.4 1406.66 1065 1406.73 1065.6 1410.65 1066.2 1407.55 1066.8 1410.89 1067.4 1408.15 1068 1405.75 1068.6 1410.06 1069.2 1409.35 1069.8 1409.58 1070.4 1408.17 1071 1408.21 1071.6 1409.95 1072.2 1407.84 1072.8 1406.48 1073.4 1409.94 1074 1408.12 1074.6 1410.4 1075.2 1408.31 1075.8 1408.39 1076.4 1408.62 1077 1406.11 1077.6 1410.36 1078.2 1408.21 1078.8 1408.74" fill="none" stroke="#000" stroke-width="3.3" stroke-linejoin="round"/>
<rect x="177" y="824" width="904.8" height="621.7" fill="none" stroke="#000" stroke-width="4.9"/>
<line x1="163" y1="1445.7" x2="177" y2="1445.7" stroke="#000" stroke-width="4" stroke-linecap="butt"/>
<line x1="169" y1="1404.25" x2="177" y2="1404.25" stroke="#000" stroke-width="4" stroke-linecap="butt"/>
<line x1="163" y1="1362.81" x2="177" y2="1362.81" stroke="#000" stroke-width="4" stroke-linecap="butt"/>
<line x1="169" y1="1321.36" x2="177" y2="1321.36" stroke="#000" stroke-width="4" stroke-linecap="butt"/>
<line x1="163" y1="1279.91" x2="177" y2="1279.91" stroke="#000" stroke-width="4" stroke-linecap="butt"/>
<line x1="169" y1="1238.47" x2="177" y2="1238.47" stroke="#000" stroke-width="4" stroke-linecap="butt"/>
<line x1="163" y1="1197.02" x2="177" y2="1197.02" stroke="#000" stroke-width="4" stroke-linecap="butt"/>
<line x1="169" y1="1155.57" x2="177" y2="1155.57" stroke="#000" stroke-width="4" stroke-linecap="butt"/>
<line x1="163" y1="1114.13" x2="177" y2="1114.13" stroke="#000" stroke-width="4" stroke-linecap="butt"/>
<line x1="169" y1="1072.68" x2="177" y2="1072.68" stroke="#000" stroke-width="4" stroke-linecap="butt"/>
<line x1="163" y1="1031.23" x2="177" y2="1031.23" stroke="#000" stroke-width="4" stroke-linecap="butt"/>
<line x1="169" y1="989.79" x2="177" y2="989.79" stroke="#000" stroke-width="4" stroke-linecap="butt"/>
<line x1="163" y1="948.34" x2="177" y2="948.34" stroke="#000" stroke-width="4" stroke-linecap="butt"/>
<line x1="169" y1="906.89" x2="177" y2="906.89" stroke="#000" stroke-width="4" stroke-linecap="butt"/>
<line x1="163" y1="865.45" x2="177" y2="865.45" stroke="#000" stroke-width="4" stroke-linecap="butt"/>
<line x1="169" y1="824" x2="177" y2="824" stroke="#000" stroke-width="4" stroke-linecap="butt"/>
<line x1="259.25" y1="1445.7" x2="259.25" y2="1436.7" stroke="#000" stroke-width="3.6" stroke-linecap="butt"/>
<line x1="341.51" y1="1445.7" x2="341.51" y2="1436.7" stroke="#000" stroke-width="3.6" stroke-linecap="butt"/>
<line x1="423.76" y1="1445.7" x2="423.76" y2="1436.7" stroke="#000" stroke-width="3.6" stroke-linecap="butt"/>
<line x1="506.02" y1="1445.7" x2="506.02" y2="1436.7" stroke="#000" stroke-width="3.6" stroke-linecap="butt"/>
<line x1="588.27" y1="1445.7" x2="588.27" y2="1436.7" stroke="#000" stroke-width="3.6" stroke-linecap="butt"/>
<line x1="670.53" y1="1445.7" x2="670.53" y2="1436.7" stroke="#000" stroke-width="3.6" stroke-linecap="butt"/>
<line x1="752.78" y1="1445.7" x2="752.78" y2="1436.7" stroke="#000" stroke-width="3.6" stroke-linecap="butt"/>
<line x1="835.04" y1="1445.7" x2="835.04" y2="1436.7" stroke="#000" stroke-width="3.6" stroke-linecap="butt"/>
<line x1="917.29" y1="1445.7" x2="917.29" y2="1436.7" stroke="#000" stroke-width="3.6" stroke-linecap="butt"/>
<line x1="999.55" y1="1445.7" x2="999.55" y2="1436.7" stroke="#000" stroke-width="3.6" stroke-linecap="butt"/>
<text transform="translate(124.13 1455.31) scale(1.3258 1)" font-family='"Liberation Serif", serif' font-size="29.34">0</text>
<text transform="translate(85.23 1372.42) scale(1.3258 1)" font-family='"Liberation Serif", serif' font-size="29.34">200</text>
<text transform="translate(85.23 1289.53) scale(1.3258 1)" font-family='"Liberation Serif", serif' font-size="29.34">400</text>
<text transform="translate(85.23 1206.63) scale(1.3258 1)" font-family='"Liberation Serif", serif' font-size="29.34">600</text>
<text transform="translate(85.23 1123.74) scale(1.3258 1)" font-family='"Liberation Serif", serif' font-size="29.34">800</text>
<text transform="translate(65.78 1040.85) scale(1.3258 1)" font-family='"Liberation Serif", serif' font-size="29.34">1000</text>
<text transform="translate(65.78 957.95) scale(1.3258 1)" font-family='"Liberation Serif", serif' font-size="29.34">1200</text>
<text transform="translate(65.78 875.06) scale(1.3258 1)" font-family='"Liberation Serif", serif' font-size="29.34">1400</text>
<text transform="translate(157.44 1489.5) scale(1.2803 1)" font-family='"Liberation Sans", sans-serif' font-size="27.26">25</text>
<text transform="translate(239.86 1489.5) scale(1.2803 1)" font-family='"Liberation Sans", sans-serif' font-size="27.26">30</text>
<text transform="translate(322.17 1489.5) scale(1.2803 1)" font-family='"Liberation Sans", sans-serif' font-size="27.26">35</text>
<text transform="translate(404.63 1489.5) scale(1.2803 1)" font-family='"Liberation Sans", sans-serif' font-size="27.26">40</text>
<text transform="translate(486.94 1489.5) scale(1.2803 1)" font-family='"Liberation Sans", sans-serif' font-size="27.26">45</text>
<text transform="translate(568.85 1489.5) scale(1.2803 1)" font-family='"Liberation Sans", sans-serif' font-size="27.26">50</text>
<text transform="translate(651.15 1489.5) scale(1.2803 1)" font-family='"Liberation Sans", sans-serif' font-size="27.26">55</text>
<text transform="translate(733.17 1489.5) scale(1.2803 1)" font-family='"Liberation Sans", sans-serif' font-size="27.26">60</text>
<text transform="translate(815.47 1489.5) scale(1.2803 1)" font-family='"Liberation Sans", sans-serif' font-size="27.26">65</text>
<text transform="translate(897.67 1489.5) scale(1.2803 1)" font-family='"Liberation Sans", sans-serif' font-size="27.26">70</text>
<text transform="translate(979.97 1489.5) scale(1.2803 1)" font-family='"Liberation Sans", sans-serif' font-size="27.26">75</text>
<text transform="translate(1062.31 1489.5) scale(1.2803 1)" font-family='"Liberation Sans", sans-serif' font-size="27.26">80</text>
<text transform="translate(523.97 1548.25) scale(1.1307 1)" font-family='"Liberation Serif", serif' font-size="42.84">2θ, degree</text>
<text transform="translate(33.7 1240.93) rotate(-90) scale(0.9279 1)" font-family='"Liberation Serif", serif' font-size="48.57">Intensity (%)</text>
<rect x="990.8" y="869.6" width="9.2" height="77.6" rx="2.6" fill="#000"/>
<path d="M998.5 904 C1003.5 899 1009.5 896.8 1015.5 896.8 C1026.5 896.8 1032.8 906 1032.8 920.4 C1032.8 934.6 1026.5 943.5 1015.3 943.5 C1009 943.5 1004 940.5 999.2 935" fill="none" stroke="#000" stroke-width="8.4"/>
<text transform="translate(351.8 858.99) scale(0.7730 1)" font-family='"Liberation Sans", sans-serif' font-size="33.38">(</text>
<text transform="translate(422.01 858.99) scale(0.7730 1)" font-family='"Liberation Sans", sans-serif' font-size="33.38">)</text>
<text transform="translate(361.97 859.52) scale(1.1133 1)" font-family='"Liberation Sans", sans-serif' font-size="30.96">111</text>
<text transform="translate(293 900.79) scale(0.7730 1)" font-family='"Liberation Sans", sans-serif' font-size="33.38">(</text>
<text transform="translate(362.61 900.79) scale(0.7730 1)" font-family='"Liberation Sans", sans-serif' font-size="33.38">)</text>
<text transform="translate(303.2 901.32) scale(1.1007 1)" font-family='"Liberation Sans", sans-serif' font-size="30.96">111</text>
<text transform="translate(228.3 1316.51) scale(0.7730 1)" font-family='"Liberation Sans", sans-serif' font-size="33.27">(</text>
<text transform="translate(297.03 1316.51) scale(0.7730 1)" font-family='"Liberation Sans", sans-serif' font-size="33.27">)</text>
<text transform="translate(239.78 1316.75) scale(1.0933 1)" font-family='"Liberation Sans", sans-serif' font-size="29.99">002</text>
<text transform="translate(528.6 1264.67) scale(0.7730 1)" font-family='"Liberation Sans", sans-serif' font-size="35.42">(</text>
<text transform="translate(597.88 1264.67) scale(0.7730 1)" font-family='"Liberation Sans", sans-serif' font-size="35.42">)</text>
<text transform="translate(540.54 1264.92) scale(1.0236 1)" font-family='"Liberation Sans", sans-serif' font-size="31.93">202</text>
<text transform="translate(611.29 1348.27) scale(0.7730 1)" font-family='"Liberation Sans", sans-serif' font-size="33.49">(</text>
<text transform="translate(679.88 1348.27) scale(0.7730 1)" font-family='"Liberation Sans", sans-serif' font-size="33.49">)</text>
<text transform="translate(622.87 1348.51) scale(1.0735 1)" font-family='"Liberation Sans", sans-serif' font-size="30.19">020</text>
<text transform="translate(679.23 1321.8) scale(0.7730 1)" font-family='"Liberation Sans", sans-serif' font-size="32.85">(</text>
<text transform="translate(745.12 1321.8) scale(0.7730 1)" font-family='"Liberation Sans", sans-serif' font-size="32.85">)</text>
<text transform="translate(690.24 1322.04) scale(1.0592 1)" font-family='"Liberation Sans", sans-serif' font-size="29.61">202</text>
<text transform="translate(753.48 1320.3) scale(0.7730 1)" font-family='"Liberation Sans", sans-serif' font-size="33.81">(</text>
<text transform="translate(821.02 1320.3) scale(0.7730 1)" font-family='"Liberation Sans", sans-serif' font-size="33.81">)</text>
<text transform="translate(763.96 1320.54) scale(1.0664 1)" font-family='"Liberation Sans", sans-serif' font-size="30.48"><tspan font-weight="bold">1</tspan>13</text>
<text transform="translate(808.67 1168.46) scale(0.7730 1)" font-family='"Liberation Sans", sans-serif' font-size="34.03">(</text>
<text transform="translate(875.87 1168.46) scale(0.7730 1)" font-family='"Liberation Sans", sans-serif' font-size="34.03">)</text>
<text transform="translate(820.51 1168.7) scale(1.0283 1)" font-family='"Liberation Sans", sans-serif' font-size="30.67">311</text>
<text transform="translate(751.06 1230.96) scale(0.7730 1)" font-family='"Liberation Sans", sans-serif' font-size="32.09">(</text>
<text transform="translate(820.78 1230.96) scale(0.7730 1)" font-family='"Liberation Sans", sans-serif' font-size="32.09">)</text>
<text transform="translate(762.04 1231.19) scale(1.1684 1)" font-family='"Liberation Sans", sans-serif' font-size="28.93">022</text>
<text transform="translate(884.86 1210.46) scale(0.7730 1)" font-family='"Liberation Sans", sans-serif' font-size="32.09">(</text>
<text transform="translate(952.08 1210.46) scale(0.7730 1)" font-family='"Liberation Sans", sans-serif' font-size="32.09">)</text>
<text transform="translate(894.66 1210.69) scale(1.1358 1)" font-family='"Liberation Sans", sans-serif' font-size="28.93">113</text>
<text transform="translate(927.36 1301.76) scale(0.7730 1)" font-family='"Liberation Sans", sans-serif' font-size="32.09">(</text>
<text transform="translate(997.08 1301.76) scale(0.7730 1)" font-family='"Liberation Sans", sans-serif' font-size="32.09">)</text>
<text transform="translate(938.38 1301.99) scale(1.1666 1)" font-family='"Liberation Sans", sans-serif' font-size="28.93">311</text>
<text transform="translate(899.58 1347.02) scale(0.7730 1)" font-family='"Liberation Sans", sans-serif' font-size="33.7">(</text>
<text transform="translate(968.34 1347.02) scale(0.7730 1)" font-family='"Liberation Sans", sans-serif' font-size="33.7">)</text>
<text transform="translate(910.86 1347.27) scale(1.0754 1)" font-family='"Liberation Sans", sans-serif' font-size="30.38">220</text>
<text transform="translate(969.86 1372.56) scale(0.7730 1)" font-family='"Liberation Sans", sans-serif' font-size="32.09">(</text>
<text transform="translate(1039.28 1372.56) scale(0.7730 1)" font-family='"Liberation Sans", sans-serif' font-size="32.09">)</text>
<text transform="translate(980.46 1373.07) scale(1.1540 1)" font-family='"Liberation Sans", sans-serif' font-size="29.33">222</text>
<rect x="303.5" y="867.6" width="14.9" height="3" fill="#000"/>
<rect x="539.5" y="1231.6" width="13.8" height="3" fill="#000"/>
<rect x="765.2" y="1291.2" width="15.8" height="3" fill="#000"/>
<rect x="820.7" y="1136.9" width="15" height="3" fill="#000"/>
<rect x="984" y="1341.5" width="14" height="3" fill="#000"/>
<path d="M844.5 1343L810.8 1241.4M806.1 1267.5L810.8 1241.4L830.7 1258" fill="none" stroke="#000" stroke-width="1.7" stroke-linejoin="miter"/>
<path d="M859.6 1335.2L847 1188.8M836 1210.8L847 1188.8L861.2 1208.6" fill="none" stroke="#000" stroke-width="1.7" stroke-linejoin="miter"/>
<path d="M890.5 1328.9L917.8 1222.5M900.5 1240.1L917.8 1222.5L925.1 1246.1" fill="none" stroke="#000" stroke-width="1.7" stroke-linejoin="miter"/>
<path d="M186 2194.4 186.6 2194.73 187.2 2194.1 187.8 2193.42 188.4 2193.9 189 2193.31 189.6 2194.55 190.2 2195.88 190.8 2193.86 191.4 2193.72 192 2194.94 192.6 2194.8 193.2 2194.52 193.8 2193.38 194.4 2194.37 195 2195.17 195.6 2192.93 196.2 2193.91 196.8 2192.32 197.4 2192.99 198 2192.39 198.6 2194.15 199.2 2193.02 199.8 2194.71 200.4 2194.59 201 2194.21 201.6 2191.65 202.2 2193.83 202.8 2194.37 203.4 2194.55 204 2192.74 204.6 2193.9 205.2 2193.35 205.8 2193.54 206.4 2197 207 2193.55 207.6 2194.4 208.2 2195.41 208.8 2193.8 209.4 2194.32 210 2194.57 210.6 2194.52 211.2 2193.1 211.8 2194.53 212.4 2195.95 213 2190.71 213.6 2195.4 214.2 2194.59 214.8 2193.75 215.4 2196.66 216 2195.3 216.6 2193.15 217.2 2194.55 217.8 2195.11 218.4 2194.27 219 2195.23 219.6 2194.4 220.2 2195.21 220.8 2196.06 221.4 2193.74 222 2194.71 222.6 2193.98 223.2 2194.63 223.8 2193.18 224.4 2193.85 225 2194.28 225.6 2195.48 226.2 2195.75 226.8 2193.04 227.4 2193.62 228 2195.2 228.6 2189.67 229.2 2193.97 229.8 2194.36 230.4 2195.82 231 2195.18 231.6 2194.04 232.2 2193.97 232.8 2193.72 233.4 2195.9 234 2193.72 234.6 2193.76 235.2 2194.32 235.8 2193.66 236.4 2193.38 237 2192.21 237.6 2193 238.2 2192.2 238.8 2193.23 239.4 2192.14 240 2190.82 240.6 2190.52 241.2 2188.69 241.8 2188.44 242.4 2186.25 243 2184.85 243.6 2181.88 244.2 2180.3 244.8 2176.85 245.4 2173.75 246 2170.7 246.6 2166.58 247.2 2162.21 247.8 2157.33 248.4 2151.46 249 2145.3 249.6 2138.59 250.2 2131.29 250.8 2123.44 251.4 2115.1 252 2106.32 252.6 2097.15 253.2 2087.68 253.8 2078.01 254.4 2068.26 255 2058.55 255.6 2049.04 256.2 2039.87 256.8 2031.21 257.4 2023.22 258 2016.1 258.6 2010.03 259.2 2005.26 259.8 2002.74 260.4 2003.99 261 2007.95 261.6 2013.86 262.2 2021.04 262.8 2028.86 263.4 2036.73 264 2044.15 264.6 2050.69 265.2 2055.98 265.8 2059.79 266.4 2061.93 267 2062.31 267.6 2060.87 268.2 2057.65 268.8 2052.67 269.4 2046.04 270 2037.83 270.6 2028.15 271.2 2017.1 271.8 2004.8 272.4 1991.34 273 1976.81 273.6 1961.32 274.2 1944.95 274.8 1927.81 275.4 1909.98 276 1891.57 276.6 1872.69 277.2 1853.48 277.8 1834.06 278.4 1814.59 279 1795.27 279.6 1776.29 280.2 1757.89 280.8 1740.36 281.4 1724.03 282 1709.31 282.6 1696.74 283.2 1687.18 283.8 1683.44 284.4 1691.31 285 1704.02 285.6 1719.8 286.2 1737.8 286.8 1757.38 287.4 1778.07 288 1799.47 288.6 1821.27 289.2 1843.19 289.8 1865 290.4 1886.5 291 1907.52 291.6 1924.47 292.2 1939.83 292.8 1955.09 293.4 1969.69 294 1984.18 294.6 1999.64 295.2 2017.16 295.8 2036.69 296.4 2056.95 297 2078.32 297.6 2100.39 298.2 2117.97 298.8 2131.48 299.4 2142.62 300 2151.2 300.6 2158.22 301.2 2164.14 301.8 2169.16 302.4 2173.65 303 2177.76 303.6 2181.44 304.2 2184.66 304.8 2187.13 305.4 2189.78 306 2191.14 306.6 2193.19 307.2 2194.11 307.8 2195.13 308.4 2196.11 309 2196 309.6 2194.5 310.2 2193.92 310.8 2195.18 311.4 2193.8 312 2194.25 312.6 2194.6 313.2 2192.63 313.8 2192.02 314.4 2193.28 315 2192.66 315.6 2191.9 316.2 2191.4 316.8 2190.14 317.4 2188.93 318 2188.39 318.6 2186.55 319.2 2184.11 319.8 2181.62 320.4 2177.62 321 2173.21 321.6 2167.67 322.2 2160.07 322.8 2151.38 323.4 2142.79 324 2133.59 324.6 2124.27 325.2 2115.5 325.8 2107.19 326.4 2098.92 327 2090.8 327.6 2082.95 328.2 2075.5 328.8 2068.56 329.4 2062.25 330 2056.58 330.6 2051.35 331.2 2046.55 331.8 2042.23 332.4 2038.39 333 2034.86 333.6 2032 334.2 2030.05 334.8 2028.83 335.4 2029.48 336 2031.3 336.6 2034.08 337.2 2038.32 337.8 2044.36 338.4 2051.85 339 2060.3 339.6 2070.5 340.2 2082.83 340.8 2096.15 341.4 2109.32 342 2121.76 342.6 2134.82 343.2 2145.91 343.8 2153.11 344.4 2158.85 345 2163.85 345.6 2167.74 346.2 2171.44 346.8 2173.93 347.4 2176.94 348 2179.47 348.6 2181.2 349.2 2184.46 349.8 2186.17 350.4 2186.72 351 2188.75 351.6 2189.74 352.2 2188.77 352.8 2191.7 353.4 2192.23 354 2193.07 354.6 2192.67 355.2 2193.84 355.8 2194.37 356.4 2196.02 357 2195.62 357.6 2195.64 358.2 2197.44 358.8 2195.69 359.4 2196.14 360 2194.93 360.6 2198.68 361.2 2198.26 361.8 2198.35 362.4 2198.17 363 2197.64 363.6 2197.81 364.2 2197.36 364.8 2197.45 365.4 2197.75 366 2199.34 366.6 2198.11 367.2 2197.01 367.8 2195.88 368.4 2195.07 369 2195.9 369.6 2193.4 370.2 2191.28 370.8 2189.11 371.4 2186.86 372 2185.87 372.6 2185.26 373.2 2184.33 373.8 2184.77 374.4 2185.82 375 2187.56 375.6 2188.37 376.2 2191.08 376.8 2192.31 377.4 2195.18 378 2194.77 378.6 2197.38 379.2 2197.97 379.8 2196.14 380.4 2195.52 381 2195.6 381.6 2194.42 382.2 2192.26 382.8 2191.54 383.4 2190.13 384 2186 384.6 2182.7 385.2 2178.6 385.8 2174.67 386.4 2169.75 387 2165.04 387.6 2160.6 388.2 2156.15 388.8 2152.74 389.4 2150.36 390 2149.56 390.6 2150.98 391.2 2153.9 391.8 2157.61 392.4 2162.03 393 2166.67 393.6 2171.64 394.2 2176.57 394.8 2180.7 395.4 2183.7 396 2186.83 396.6 2189.62 397.2 2192.3 397.8 2193.62 398.4 2195.29 399 2196.37 399.6 2196.52 400.2 2197.3 400.8 2197.93 401.4 2197.88 402 2198.69 402.6 2200.3 403.2 2198.99 403.8 2198.46 404.4 2196.59 405 2199.4 405.6 2196.34 406.2 2196.94 406.8 2199.44 407.4 2199.29 408 2198.36 408.6 2196.65 409.2 2198.13 409.8 2197.8 410.4 2199.25 411 2201.04 411.6 2198.81 412.2 2197.72 412.8 2197.29 413.4 2198.53 414 2198.4 414.6 2197.34 415.2 2198.74 415.8 2197.36 416.4 2199.85 417 2199.81 417.6 2199.84 418.2 2198.13 418.8 2199.23 419.4 2198.52 420 2198.25 420.6 2198.31 421.2 2197.26 421.8 2197.11 422.4 2199.58 423 2198.51 423.6 2198.97 424.2 2199.84 424.8 2196.84 425.4 2197.89 426 2198.96 426.6 2199.2 427.2 2198.37 427.8 2199.92 428.4 2199.03 429 2197.47 429.6 2197.8 430.2 2199.71 430.8 2199.35 431.4 2196.76 432 2200.34 432.6 2199.53 433.2 2200.35 433.8 2198.46 434.4 2198.57 435 2197.66 435.6 2201.68 436.2 2198.69 436.8 2200.57 437.4 2198.04 438 2198.76 438.6 2196.55 439.2 2197.5 439.8 2198.26 440.4 2195.33 441 2196.45 441.6 2194.69 442.2 2192.5 442.8 2191.9 443.4 2191.16 444 2191.02 444.6 2190.72 445.2 2190.96 445.8 2192.11 446.4 2192.62 447 2193.51 447.6 2195.64 448.2 2197.52 448.8 2196.02 449.4 2198.15 450 2197.91 450.6 2197.84 451.2 2200 451.8 2198.6 452.4 2200.83 453 2198.3 453.6 2199.42 454.2 2198.49 454.8 2197.49 455.4 2198.1 456 2196.35 456.6 2195.6 457.2 2193.36 457.8 2190.77 458.4 2189.43 459 2187.72 459.6 2186.76 460.2 2185.2 460.8 2185.59 461.4 2185.61 462 2188.13 462.6 2189.04 463.2 2190.51 463.8 2193.6 464.4 2196.31 465 2195.46 465.6 2196.87 466.2 2197.93 466.8 2198.02 467.4 2199.94 468 2198.85 468.6 2198.11 469.2 2200.56 469.8 2199.14 470.4 2200.48 471 2198.96 471.6 2197.12 472.2 2198.06 472.8 2202.14 473.4 2199.77 474 2200.41 474.6 2200.13 475.2 2200.36 475.8 2200.26 476.4 2202.32 477 2199.1 477.6 2198.55 478.2 2199.17 478.8 2198.84 479.4 2201.15 480 2201.25 480.6 2199.31 481.2 2198.85 481.8 2200.01 482.4 2201.95 483 2197.33 483.6 2201.03 484.2 2199.28 484.8 2201.63 485.4 2199.31 486 2200.2 486.6 2198.87 487.2 2199.47 487.8 2202.08 488.4 2201.47 489 2200.14 489.6 2199.64 490.2 2198.52 490.8 2200.18 491.4 2200.59 492 2200.54 492.6 2200.54 493.2 2199.42 493.8 2200.59 494.4 2200.62 495 2202.09 495.6 2202.73 496.2 2200.53 496.8 2198.83 497.4 2200.62 498 2200.03 498.6 2199.88 499.2 2200.63 499.8 2199.55 500.4 2201.37 501 2200.59 501.6 2200.98 502.2 2200.5 502.8 2199.9 503.4 2199.66 504 2200.44 504.6 2200.1 505.2 2200.96 505.8 2200.7 506.4 2199.2 507 2200.86 507.6 2199.22 508.2 2200.02 508.8 2199.99 509.4 2198.42 510 2200.8 510.6 2200.87 511.2 2200.53 511.8 2200.23 512.4 2200.29 513 2199.63 513.6 2200.4 514.2 2200.09 514.8 2200.8 515.4 2199.37 516 2200.96 516.6 2200.86 517.2 2200.54 517.8 2200.22 518.4 2201.31 519 2198.87 519.6 2201.21 520.2 2200.97 520.8 2201.01 521.4 2201.12 522 2199.98 522.6 2200.41 523.2 2201.4 523.8 2201.17 524.4 2200.93 525 2199.03 525.6 2201.29 526.2 2201.98 526.8 2201.81 527.4 2200.95 528 2198.98 528.6 2201.73 529.2 2200.53 529.8 2197.91 530.4 2201.11 531 2199.06 531.6 2199.27 532.2 2200 532.8 2202.1 533.4 2200.29 534 2200.99 534.6 2202.62 535.2 2204.55 535.8 2200.58 536.4 2200.43 537 2199.31 537.6 2199.93 538.2 2201.16 538.8 2201.13 539.4 2200.82 540 2201.79 540.6 2199.84 541.2 2200.63 541.8 2201.5 542.4 2201.34 543 2201.87 543.6 2201.13 544.2 2200.35 544.8 2201.09 545.4 2199.59 546 2198.89 546.6 2201.33 547.2 2200.63 547.8 2201.03 548.4 2198.82 549 2200.29 549.6 2200.03 550.2 2199.74 550.8 2198.21 551.4 2200.32 552 2202.86 552.6 2201.11 553.2 2200.03 553.8 2200.67 554.4 2201.52 555 2197.65 555.6 2200.55 556.2 2201.29 556.8 2201.44 557.4 2202.56 558 2201.94 558.6 2201.03 559.2 2201.02 559.8 2201.55 560.4 2200.09 561 2200.64 561.6 2201.68 562.2 2202.84 562.8 2200.51 563.4 2200.63 564 2200.9 564.6 2202.16 565.2 2200.65 565.8 2202.3 566.4 2199.62 567 2200.48 567.6 2200.46 568.2 2201.55 568.8 2201.83 569.4 2199.02 570 2199.67 570.6 2201.05 571.2 2199.96 571.8 2199 572.4 2201.82 573 2201.22 573.6 2201.22 574.2 2200.15 574.8 2201.81 575.4 2200.41 576 2201.88 576.6 2199.67 577.2 2199.74 577.8 2200.9 578.4 2199.9 579 2201.42 579.6 2200.96 580.2 2199.66 580.8 2200.75 581.4 2200.29 582 2201.68 582.6 2199.98 583.2 2200.19 583.8 2202 584.4 2203.13 585 2202.87 585.6 2200.74 586.2 2200.91 586.8 2202.36 587.4 2200.53 588 2199.59 588.6 2200.8 589.2 2201.16 589.8 2199.75 590.4 2198.86 591 2199.09 591.6 2201.4 592.2 2199.83 592.8 2200.51 593.4 2200.9 594 2201.34 594.6 2200.29 595.2 2201.21 595.8 2199.68 596.4 2200.26 597 2199.53 597.6 2201.9 598.2 2200.63 598.8 2199.85 599.4 2200.27 600 2200.41 600.6 2201.43 601.2 2196.8 601.8 2199.52 602.4 2200.24 603 2203.44 603.6 2201.71 604.2 2200.53 604.8 2201.44 605.4 2202.92 606 2200.39 606.6 2200.25 607.2 2201.98 607.8 2201.19 608.4 2201.39 609 2200.09 609.6 2202.76 610.2 2202.51 610.8 2201.24 611.4 2201.34 612 2198.33 612.6 2201.14 613.2 2200.09 613.8 2200.51 614.4 2200.37 615 2198.76 615.6 2196.72 616.2 2197.58 616.8 2195.32 617.4 2194.08 618 2192.12 618.6 2190.41 619.2 2186.22 619.8 2187.65 620.4 2185.97 621 2185.58 621.6 2185.8 622.2 2185.56 622.8 2185.86 623.4 2187.74 624 2189.31 624.6 2191.56 625.2 2193.78 625.8 2193.85 626.4 2197.12 627 2196.58 627.6 2199.12 628.2 2199.33 628.8 2199.51 629.4 2199.96 630 2199.5 630.6 2199.31 631.2 2197.93 631.8 2199.17 632.4 2200.32 633 2199.55 633.6 2197.97 634.2 2196.47 634.8 2194.54 635.4 2195.45 636 2194.01 636.6 2194 637.2 2194.19 637.8 2195.12 638.4 2195.55 639 2196.77 639.6 2196.77 640.2 2197.77 640.8 2201.51 641.4 2199.64 642 2199.81 642.6 2200.87 643.2 2201.21 643.8 2199.3 644.4 2200.34 645 2201.59 645.6 2200.89 646.2 2200.89 646.8 2202.31 647.4 2199.85 648 2200.68 648.6 2199.99 649.2 2202.12 649.8 2198.23 650.4 2199.34 651 2199.04 651.6 2199.57 652.2 2198.73 652.8 2198.72 653.4 2195.69 654 2197.71 654.6 2197.21 655.2 2197.53 655.8 2199.45 656.4 2198.62 657 2197.84 657.6 2199.93 658.2 2198.84 658.8 2199.83 659.4 2200.98 660 2200.92 660.6 2202.32 661.2 2200.36 661.8 2198.89 662.4 2199.74 663 2199.56 663.6 2199.23 664.2 2201.05 664.8 2199.86 665.4 2198.4 666 2201.34 666.6 2200.45 667.2 2200.96 667.8 2200.68 668.4 2201.26 669 2200.61 669.6 2201.92 670.2 2201.03 670.8 2200.99 671.4 2201.55 672 2198.96 672.6 2200.38 673.2 2200.27 673.8 2200.78 674.4 2199.06 675 2202.35 675.6 2200.67 676.2 2199.22 676.8 2198.67 677.4 2200.24 678 2200.45 678.6 2199.75 679.2 2200.64 679.8 2199.84 680.4 2201.15 681 2199.74 681.6 2200.49 682.2 2202.9 682.8 2203.36 683.4 2199.42 684 2200.01 684.6 2199.6 685.2 2201.38 685.8 2199.25 686.4 2199.97 687 2200.46 687.6 2199.41 688.2 2199.43 688.8 2199.94 689.4 2198.15 690 2198.84 690.6 2199.95 691.2 2200.53 691.8 2200.13 692.4 2196.06 693 2199.74 693.6 2201.03 694.2 2200.69 694.8 2199.92 695.4 2198.96 696 2200.42 696.6 2199.01 697.2 2198.22 697.8 2198.39 698.4 2200.37 699 2198.84 699.6 2199.36 700.2 2197.39 700.8 2198.16 701.4 2196.22 702 2195.92 702.6 2197.18 703.2 2195.56 703.8 2192.93 704.4 2191.99 705 2190.83 705.6 2189.66 706.2 2186.99 706.8 2184.44 707.4 2182.69 708 2180.15 708.6 2177.19 709.2 2174.09 709.8 2170.17 710.4 2166.09 711 2161.35 711.6 2156.45 712.2 2150.96 712.8 2144.86 713.4 2138.27 714 2131.14 714.6 2123.47 715.2 2115.21 715.8 2106.41 716.4 2097.07 717 2087.2 717.6 2076.85 718.2 2066.06 718.8 2054.88 719.4 2043.39 720 2031.69 720.6 2019.87 721.2 2008.06 721.8 1996.4 722.4 1985.04 723 1974.16 723.6 1963.97 724.2 1954.7 724.8 1946.59 725.4 1939.97 726 1935.29 726.6 1933.62 727.2 1936.55 727.8 1941.9 728.4 1949.01 729 1957.49 729.6 1967.06 730.2 1977.45 730.8 1988.47 731.4 1999.9 732 2011.59 732.6 2023.38 733.2 2035.13 733.8 2046.73 734.4 2058.08 735 2069.09 735.6 2079.71 736.2 2089.86 736.8 2099.52 737.4 2108.64 738 2117.23 738.6 2125.25 739.2 2132.7 739.8 2139.61 740.4 2146 741 2151.77 741.6 2157.07 742.2 2161.95 742.8 2166.49 743.4 2170.08 744 2174.09 744.6 2176.87 745.2 2179.53 745.8 2182.83 746.4 2184.57 747 2185.96 747.6 2188.11 748.2 2190.36 748.8 2191.9 749.4 2191.99 750 2193.58 750.6 2194.71 751.2 2194.35 751.8 2195.83 752.4 2196.04 753 2196.04 753.6 2196.46 754.2 2197.33 754.8 2197.58 755.4 2197.22 756 2197.56 756.6 2199.32 757.2 2198.53 757.8 2199.36 758.4 2199.81 759 2199.24 759.6 2201.13 760.2 2197.85 760.8 2199.66 761.4 2198.48 762 2200.88 762.6 2200.74 763.2 2196.77 763.8 2197.87 764.4 2199.67 765 2199.82 765.6 2199.77 766.2 2198.89 766.8 2199.48 767.4 2199.7 768 2198.9 768.6 2200.12 769.2 2196.51 769.8 2199.69 770.4 2197.86 771 2200.05 771.6 2198.74 772.2 2198.02 772.8 2199.41 773.4 2198 774 2197.99 774.6 2197.28 775.2 2198.97 775.8 2199.55 776.4 2200.12 777 2198.84 777.6 2200.15 778.2 2199.02 778.8 2198.9 779.4 2199.63 780 2200.16 780.6 2198.62 781.2 2198.73 781.8 2198.82 782.4 2199.2 783 2198.01 783.6 2200.13 784.2 2198.56 784.8 2199.51 785.4 2198.09 786 2199.39 786.6 2199.43 787.2 2198.54 787.8 2201.22 788.4 2199.41 789 2200.95 789.6 2200.06 790.2 2198.27 790.8 2198.58 791.4 2199.48 792 2199.07 792.6 2199.05 793.2 2198.69 793.8 2194.62 794.4 2198.75 795 2196.56 795.6 2199.41 796.2 2198.2 796.8 2198.21 797.4 2198.76 798 2199.3 798.6 2197.42 799.2 2197.08 799.8 2197.83 800.4 2196.75 801 2197.94 801.6 2200.75 802.2 2197.84 802.8 2199.72 803.4 2197.49 804 2199.72 804.6 2198.65 805.2 2198.93 805.8 2199.62 806.4 2200.93 807 2199.21 807.6 2199.13 808.2 2197.91 808.8 2199.61 809.4 2198.69 810 2199.84 810.6 2198.85 811.2 2200.73 811.8 2196.61 812.4 2198.31 813 2199.38 813.6 2197.83 814.2 2197.05 814.8 2197.13 815.4 2195.46 816 2196.06 816.6 2196.95 817.2 2194.47 817.8 2191.2 818.4 2189.47 819 2187.46 819.6 2185.4 820.2 2181.62 820.8 2178.33 821.4 2175.07 822 2171.22 822.6 2167.17 823.2 2163.35 823.8 2159.84 824.4 2156.86 825 2154.33 825.6 2152.81 826.2 2151.99 826.8 2152.43 827.4 2153.9 828 2156.09 828.6 2158.8 829.2 2162.34 829.8 2166.09 830.4 2169.67 831 2173.43 831.6 2177.3 832.2 2180.29 832.8 2184.58 833.4 2185.64 834 2188.63 834.6 2191.17 835.2 2192.92 835.8 2194.64 836.4 2195.87 837 2196.32 837.6 2198.31 838.2 2195.56 838.8 2198.1 839.4 2197.62 840 2198.72 840.6 2198.95 841.2 2197.82 841.8 2198.18 842.4 2199.79 843 2199.33 843.6 2198.22 844.2 2201.22 844.8 2201.53 845.4 2197.39 846 2199.33 846.6 2201.76 847.2 2199.86 847.8 2199.24 848.4 2198.77 849 2198.4 849.6 2198.77 850.2 2198.39 850.8 2199.82 851.4 2198.56 852 2198.51 852.6 2197.68 853.2 2198.95 853.8 2198.02 854.4 2198.8 855 2200.15 855.6 2199.4 856.2 2199.56 856.8 2199.39 857.4 2199.06 858 2198.86 858.6 2198.25 859.2 2199.83 859.8 2197.8 860.4 2200.45 861 2198.98 861.6 2198.07 862.2 2198.25 862.8 2197.02 863.4 2198.53 864 2197.28 864.6 2198.75 865.2 2196.42 865.8 2194.65 866.4 2195.88 867 2194.63 867.6 2196.59 868.2 2197.94 868.8 2198.73 869.4 2196.4 870 2197.35 870.6 2200.34 871.2 2199.02 871.8 2198.83 872.4 2200.07 873 2201.65 873.6 2200.41 874.2 2199.15 874.8 2199.39 875.4 2199.68 876 2198.33 876.6 2197.84 877.2 2199.06 877.8 2197.96 878.4 2198.93 879 2199.11 879.6 2201.58 880.2 2198.06 880.8 2198.71 881.4 2198.82 882 2199.48 882.6 2200.15 883.2 2198.46 883.8 2198.1 884.4 2197.2 885 2197.98 885.6 2199.59 886.2 2199.05 886.8 2197.88 887.4 2198.59 888 2199.03 888.6 2199.55 889.2 2198.35 889.8 2198.72 890.4 2197 891 2197.73 891.6 2200.78 892.2 2196.59 892.8 2198.63 893.4 2199.24 894 2198.59 894.6 2198.11 895.2 2198.93 895.8 2198.99 896.4 2198.91 897 2196.93 897.6 2198.84 898.2 2198.06 898.8 2198.4 899.4 2199.25 900 2199.7 900.6 2199.99 901.2 2198.45 901.8 2200.02 902.4 2200.29 903 2200.25 903.6 2200.53 904.2 2198.84 904.8 2198.81 905.4 2199.91 906 2197.5 906.6 2199.23 907.2 2198.42 907.8 2198.59 908.4 2197.08 909 2198.01 909.6 2198.95 910.2 2199.92 910.8 2199.97 911.4 2198.7 912 2198.4 912.6 2197.43 913.2 2198.26 913.8 2196.97 914.4 2196.92 915 2196.83 915.6 2194.13 916.2 2191.85 916.8 2191.26 917.4 2190.07 918 2189.81 918.6 2191.38 919.2 2191.16 919.8 2190.81 920.4 2193.43 921 2195.16 921.6 2195.02 922.2 2195.74 922.8 2196.88 923.4 2198.14 924 2198.98 924.6 2199.87 925.2 2200.1 925.8 2200.18 926.4 2200.44 927 2200.57 927.6 2197.31 928.2 2198.85 928.8 2199.34 929.4 2198.58 930 2200 930.6 2198.6 931.2 2197.98 931.8 2202.5 932.4 2199.73 933 2199.24 933.6 2200.02 934.2 2200.17 934.8 2199.38 935.4 2196.3 936 2198.26 936.6 2198.5 937.2 2197.92 937.8 2199.22 938.4 2200.31 939 2198.47 939.6 2197.75 940.2 2201.23 940.8 2198.5 941.4 2197.64 942 2199.26 942.6 2199.47 943.2 2198.22 943.8 2199.87 944.4 2198.46 945 2197.98 945.6 2199.2 946.2 2199.85 946.8 2198.3 947.4 2199.36 948 2198.9 948.6 2202.11 949.2 2198.22 949.8 2200.52 950.4 2198.94 951 2198.86 951.6 2199.79 952.2 2199.98 952.8 2200.39 953.4 2199.36 954 2198.33 954.6 2197.67 955.2 2199.5 955.8 2199.51 956.4 2200.26 957 2198.97 957.6 2199.26 958.2 2199.09 958.8 2196.87 959.4 2192.68 960 2193.09 960.6 2191.24 961.2 2191.32 961.8 2188.02 962.4 2187.52 963 2186.14 963.6 2186.27 964.2 2186.33 964.8 2186.87 965.4 2188.37 966 2190.39 966.6 2192.37 967.2 2193.61 967.8 2195.5 968.4 2198.23 969 2195.87 969.6 2198.43 970.2 2197.56 970.8 2198.95 971.4 2199.79 972 2198.88 972.6 2199.82 973.2 2197.24 973.8 2200.21 974.4 2198.33 975 2199.68 975.6 2199.2 976.2 2196.16 976.8 2198.17 977.4 2199.24 978 2200.71 978.6 2199.32 979.2 2199.28 979.8 2197.45 980.4 2200.57 981 2200.99 981.6 2199.03 982.2 2198.76 982.8 2197.22 983.4 2199.97 984 2201.97 984.6 2199.79 985.2 2200.39 985.8 2199.6 986.4 2197.91 987 2200.46 987.6 2197.63 988.2 2198.73 988.8 2199.22 989.4 2199.8 990 2199.15 990.6 2198.89 991.2 2197.34 991.8 2196.33 992.4 2197.02 993 2195.48 993.6 2194.06 994.2 2193.17 994.8 2192.89 995.4 2191.2 996 2191.15 996.6 2190.89 997.2 2192.47 997.8 2193.28 998.4 2195.42 999 2193.59 999.6 2195.21 1000.2 2197.56 1000.8 2197.21 1001.4 2197.64 1002 2200.18 1002.6 2198.27 1003.2 2197.55 1003.8 2197.46 1004.4 2199.32 1005 2199.31 1005.6 2197.48 1006.2 2197.91 1006.8 2199.59 1007.4 2199.63 1008 2198.29 1008.6 2199.68 1009.2 2199.63 1009.8 2197.04 1010.4 2198.66 1011 2199.46 1011.6 2198.37 1012.2 2196.65 1012.8 2198.69 1013.4 2199.83 1014 2200.74 1014.6 2196.59 1015.2 2201.87 1015.8 2197.76 1016.4 2200.05 1017 2200.36 1017.6 2200.08 1018.2 2199.16 1018.8 2197.72 1019.4 2199.69 1020 2198.21 1020.6 2196.23 1021.2 2202.11 1021.8 2199.78 1022.4 2201 1023 2198 1023.6 2200.61 1024.2 2200.75 1024.8 2200.71 1025.4 2198.98 1026 2197.68 1026.6 2198.8 1027.2 2196.58 1027.8 2197.13 1028.4 2199.1 1029 2197.91 1029.6 2198.82 1030.2 2198.88 1030.8 2201.12 1031.4 2200.43 1032 2198.95 1032.6 2200.33 1033.2 2198.14 1033.8 2198.63 1034.4 2200 1035 2197.63 1035.6 2198.69 1036.2 2197.55 1036.8 2199.13 1037.4 2200.8 1038 2198.17 1038.6 2199.25 1039.2 2198.01 1039.8 2197.74 1040.4 2197.64 1041 2200.6 1041.6 2201.6 1042.2 2199.53 1042.8 2197.27 1043.4 2200.71 1044 2198.63 1044.6 2199.88 1045.2 2199.32 1045.8 2199.31 1046.4 2199.67 1047 2198.36 1047.6 2198.56 1048.2 2197.11 1048.8 2198.51 1049.4 2197.44 1050 2198.84 1050.6 2197.95 1051.2 2199.11 1051.8 2199.5 1052.4 2197.44 1053 2198.11 1053.6 2197.96 1054.2 2199.82 1054.8 2200.88 1055.4 2199.94 1056 2198.62 1056.6 2200.61 1057.2 2197.33 1057.8 2200.65 1058.4 2198.28 1059 2195.94 1059.6 2201.92 1060.2 2200.74 1060.8 2196.5 1061.4 2199.19 1062 2198.76 1062.6 2199.11 1063.2 2197.37 1063.8 2198.25 1064.4 2199.51 1065 2199.24 1065.6 2200.32 1066.2 2199.09 1066.8 2201.58 1067.4 2198.21 1068 2199.29 1068.6 2196.89 1069.2 2197.62 1069.8 2200.46 1070.4 2197.96 1071 2199.58 1071.6 2198.93 1072.2 2197.85 1072.8 2198.62 1073.4 2198.43 1074 2198.46 1074.6 2200.82 1075.2 2199.72 1075.8 2198.36" fill="none" stroke="#000" stroke-width="3.3" stroke-linejoin="round"/>
<rect x="183.6" y="1622.5" width="895.4" height="621.5" fill="none" stroke="#000" stroke-width="4.9"/>
<line x1="172" y1="2244" x2="183.6" y2="2244" stroke="#000" stroke-width="4" stroke-linecap="butt"/>
<line x1="176.5" y1="2166.31" x2="183.6" y2="2166.31" stroke="#000" stroke-width="4" stroke-linecap="butt"/>
<line x1="172" y1="2088.62" x2="183.6" y2="2088.62" stroke="#000" stroke-width="4" stroke-linecap="butt"/>
<line x1="176.5" y1="2010.94" x2="183.6" y2="2010.94" stroke="#000" stroke-width="4" stroke-linecap="butt"/>
<line x1="172" y1="1933.25" x2="183.6" y2="1933.25" stroke="#000" stroke-width="4" stroke-linecap="butt"/>
<line x1="176.5" y1="1855.56" x2="183.6" y2="1855.56" stroke="#000" stroke-width="4" stroke-linecap="butt"/>
<line x1="172" y1="1777.88" x2="183.6" y2="1777.88" stroke="#000" stroke-width="4" stroke-linecap="butt"/>
<line x1="176.5" y1="1700.19" x2="183.6" y2="1700.19" stroke="#000" stroke-width="4" stroke-linecap="butt"/>
<line x1="172" y1="1622.5" x2="183.6" y2="1622.5" stroke="#000" stroke-width="4" stroke-linecap="butt"/>
<line x1="273.14" y1="2244" x2="273.14" y2="2234.5" stroke="#000" stroke-width="3.6" stroke-linecap="butt"/>
<line x1="362.68" y1="2244" x2="362.68" y2="2234.5" stroke="#000" stroke-width="3.6" stroke-linecap="butt"/>
<line x1="452.22" y1="2244" x2="452.22" y2="2234.5" stroke="#000" stroke-width="3.6" stroke-linecap="butt"/>
<line x1="541.76" y1="2244" x2="541.76" y2="2234.5" stroke="#000" stroke-width="3.6" stroke-linecap="butt"/>
<line x1="631.3" y1="2244" x2="631.3" y2="2234.5" stroke="#000" stroke-width="3.6" stroke-linecap="butt"/>
<line x1="720.84" y1="2244" x2="720.84" y2="2234.5" stroke="#000" stroke-width="3.6" stroke-linecap="butt"/>
<line x1="810.38" y1="2244" x2="810.38" y2="2234.5" stroke="#000" stroke-width="3.6" stroke-linecap="butt"/>
<line x1="899.92" y1="2244" x2="899.92" y2="2234.5" stroke="#000" stroke-width="3.6" stroke-linecap="butt"/>
<line x1="989.46" y1="2244" x2="989.46" y2="2234.5" stroke="#000" stroke-width="3.6" stroke-linecap="butt"/>
<text transform="translate(133.54 2253.97) scale(1.1806 1)" font-family='"Liberation Serif", serif' font-size="33.49">0</text>
<text transform="translate(93.99 2098.6) scale(1.1806 1)" font-family='"Liberation Serif", serif' font-size="33.49">200</text>
<text transform="translate(93.99 1943.22) scale(1.1806 1)" font-family='"Liberation Serif", serif' font-size="33.49">400</text>
<text transform="translate(93.99 1787.85) scale(1.1806 1)" font-family='"Liberation Serif", serif' font-size="33.49">600</text>
<text transform="translate(93.99 1632.47) scale(1.1806 1)" font-family='"Liberation Serif", serif' font-size="33.49">800</text>
<text transform="translate(164.7 2289.3) scale(1.1860 1)" font-family='"Liberation Sans", sans-serif' font-size="28.67">30</text>
<text transform="translate(254.29 2289.3) scale(1.1860 1)" font-family='"Liberation Sans", sans-serif' font-size="28.67">35</text>
<text transform="translate(344.04 2289.3) scale(1.1860 1)" font-family='"Liberation Sans", sans-serif' font-size="28.67">40</text>
<text transform="translate(433.63 2289.3) scale(1.1860 1)" font-family='"Liberation Sans", sans-serif' font-size="28.67">45</text>
<text transform="translate(522.83 2289.3) scale(1.1860 1)" font-family='"Liberation Sans", sans-serif' font-size="28.67">50</text>
<text transform="translate(612.42 2289.3) scale(1.1860 1)" font-family='"Liberation Sans", sans-serif' font-size="28.67">55</text>
<text transform="translate(701.73 2289.3) scale(1.1860 1)" font-family='"Liberation Sans", sans-serif' font-size="28.67">60</text>
<text transform="translate(791.32 2289.3) scale(1.1860 1)" font-family='"Liberation Sans", sans-serif' font-size="28.67">65</text>
<text transform="translate(880.8 2289.3) scale(1.1860 1)" font-family='"Liberation Sans", sans-serif' font-size="28.67">70</text>
<text transform="translate(970.39 2289.3) scale(1.1860 1)" font-family='"Liberation Sans", sans-serif' font-size="28.67">75</text>
<text transform="translate(1060.01 2289.3) scale(1.1860 1)" font-family='"Liberation Sans", sans-serif' font-size="28.67">80</text>
<text transform="translate(527.08 2347.33) scale(1.1365 1)" font-family='"Liberation Serif", serif' font-size="42.51">2θ, degree</text>
<text transform="translate(59 2045.34) rotate(-90) scale(0.8857 1)" font-family='"Liberation Serif", serif' font-size="51.16">Intensity (%)</text>
<path d="M1019.6 1680.2 C1015.5 1676 1011.5 1673.6 1005.6 1673.6 C994.6 1673.6 988.4 1682 988.4 1697 C988.4 1712 994.6 1720.2 1005.6 1720.2 C1011.5 1720.2 1015.5 1717.8 1019.6 1713.6" fill="none" stroke="#000" stroke-width="8.6" stroke-linecap="round"/>
<text transform="translate(230.2 1671.69) scale(0.7730 1)" font-family='"Liberation Sans", sans-serif' font-size="33.38">(</text>
<text transform="translate(317.31 1671.69) scale(0.7730 1)" font-family='"Liberation Sans", sans-serif' font-size="33.38">)</text>
<text transform="translate(241.71 1671.93) scale(1.0912 1)" font-family='"Liberation Sans", sans-serif' font-size="30.09">0122</text>
<text transform="translate(184.29 1849.07) scale(0.7730 1)" font-family='"Liberation Sans", sans-serif' font-size="33.49">(</text>
<text transform="translate(269.58 1849.07) scale(0.7730 1)" font-family='"Liberation Sans", sans-serif' font-size="33.49">)</text>
<text transform="translate(195.88 1849.31) scale(1.0579 1)" font-family='"Liberation Sans", sans-serif' font-size="30.19">0111</text>
<text transform="translate(299.8 2005.41) scale(0.7730 1)" font-family='"Liberation Sans", sans-serif' font-size="33.27">(</text>
<text transform="translate(386.63 2005.41) scale(0.7730 1)" font-family='"Liberation Sans", sans-serif' font-size="33.27">)</text>
<text transform="translate(311.29 2005.65) scale(1.0805 1)" font-family='"Liberation Sans", sans-serif' font-size="29.99">0134</text>
<text transform="translate(345.74 2060.24) scale(0.7730 1)" font-family='"Liberation Sans", sans-serif' font-size="32.63">(</text>
<text transform="translate(432.66 2060.24) scale(0.7730 1)" font-family='"Liberation Sans", sans-serif' font-size="32.63">)</text>
<text transform="translate(356.97 2060.48) scale(1.1087 1)" font-family='"Liberation Sans", sans-serif' font-size="29.41">0144</text>
<text transform="translate(379.45 2093.79) scale(0.7730 1)" font-family='"Liberation Sans", sans-serif' font-size="32.42">(</text>
<text transform="translate(466.71 2093.79) scale(0.7730 1)" font-family='"Liberation Sans", sans-serif' font-size="32.42">)</text>
<text transform="translate(390.58 2094.02) scale(1.1307 1)" font-family='"Liberation Sans", sans-serif' font-size="29.22">0146</text>
<text transform="translate(400.12 2172.86) scale(0.7730 1)" font-family='"Liberation Sans", sans-serif' font-size="33.06">(</text>
<text transform="translate(486.87 2172.86) scale(0.7730 1)" font-family='"Liberation Sans", sans-serif' font-size="33.06">)</text>
<text transform="translate(411.51 2173.09) scale(1.0957 1)" font-family='"Liberation Sans", sans-serif' font-size="29.8">0156</text>
<text transform="translate(432.02 2135.58) scale(0.7730 1)" font-family='"Liberation Sans", sans-serif' font-size="32.95">(</text>
<text transform="translate(519.3 2135.58) scale(0.7730 1)" font-family='"Liberation Sans", sans-serif' font-size="32.95">)</text>
<text transform="translate(443.37 2135.82) scale(1.1080 1)" font-family='"Liberation Sans", sans-serif' font-size="29.7">0158</text>
<text transform="translate(591.62 2129.16) scale(0.7730 1)" font-family='"Liberation Sans", sans-serif' font-size="33.06">(</text>
<text transform="translate(678.57 2129.16) scale(0.7730 1)" font-family='"Liberation Sans", sans-serif' font-size="33.06">)</text>
<text transform="translate(603.01 2129.39) scale(1.1021 1)" font-family='"Liberation Sans", sans-serif' font-size="29.8">0182</text>
<text transform="translate(560.82 2163.16) scale(0.7730 1)" font-family='"Liberation Sans", sans-serif' font-size="33.06">(</text>
<text transform="translate(647.77 2163.16) scale(0.7730 1)" font-family='"Liberation Sans", sans-serif' font-size="33.06">)</text>
<text transform="translate(572.21 2163.39) scale(1.0963 1)" font-family='"Liberation Sans", sans-serif' font-size="29.8">0180</text>
<text transform="translate(688.6 1918.61) scale(0.7730 1)" font-family='"Liberation Sans", sans-serif' font-size="33.27">(</text>
<text transform="translate(756.63 1918.61) scale(0.7730 1)" font-family='"Liberation Sans", sans-serif' font-size="33.27">)</text>
<text transform="translate(698.85 1918.85) scale(1.0965 1)" font-family='"Liberation Sans", sans-serif' font-size="29.99">110</text>
<text transform="translate(780.21 2140.73) scale(0.7730 1)" font-family='"Liberation Sans", sans-serif' font-size="33.17">(</text>
<text transform="translate(866.55 2140.73) scale(0.7730 1)" font-family='"Liberation Sans", sans-serif' font-size="33.17">)</text>
<text transform="translate(790.41 2140.97) scale(1.1036 1)" font-family='"Liberation Sans", sans-serif' font-size="29.9">1148</text>
<text transform="translate(851 2172.61) scale(0.7730 1)" font-family='"Liberation Sans", sans-serif' font-size="33.27">(</text>
<text transform="translate(937.23 2172.61) scale(0.7730 1)" font-family='"Liberation Sans", sans-serif' font-size="33.27">)</text>
<text transform="translate(861.25 2172.85) scale(1.0994 1)" font-family='"Liberation Sans", sans-serif' font-size="29.99">1169</text>
<text transform="translate(909 2111.61) scale(0.7730 1)" font-family='"Liberation Sans", sans-serif' font-size="33.27">(</text>
<text transform="translate(995.23 2111.61) scale(0.7730 1)" font-family='"Liberation Sans", sans-serif' font-size="33.27">)</text>
<text transform="translate(920.13 2111.85) scale(1.0833 1)" font-family='"Liberation Sans", sans-serif' font-size="29.99">2035</text>
<text transform="translate(972.4 2172.61) scale(0.7730 1)" font-family='"Liberation Sans", sans-serif' font-size="33.27">(</text>
<text transform="translate(1059.03 2172.61) scale(0.7730 1)" font-family='"Liberation Sans", sans-serif' font-size="33.27">)</text>
<text transform="translate(983.89 2172.85) scale(1.0880 1)" font-family='"Liberation Sans", sans-serif' font-size="29.99">0122</text>
<path d="M255.5 1994.7L228 1875.5M220.5 1898.4L228 1875.5L245.3 1893" fill="none" stroke="#000" stroke-width="1.7" stroke-linejoin="miter"/>
<path d="M370.2 2175.5L355.3 2072.4M345.9 2094.6L355.3 2072.4L371 2091.3" fill="none" stroke="#000" stroke-width="1.7" stroke-linejoin="miter"/>
<path d="M390.4 2137.7L414.7 2100.5M393.1 2112.1L414.7 2100.5L415.2 2124.8" fill="none" stroke="#000" stroke-width="1.7" stroke-linejoin="miter"/>
</svg>
</body></html>
